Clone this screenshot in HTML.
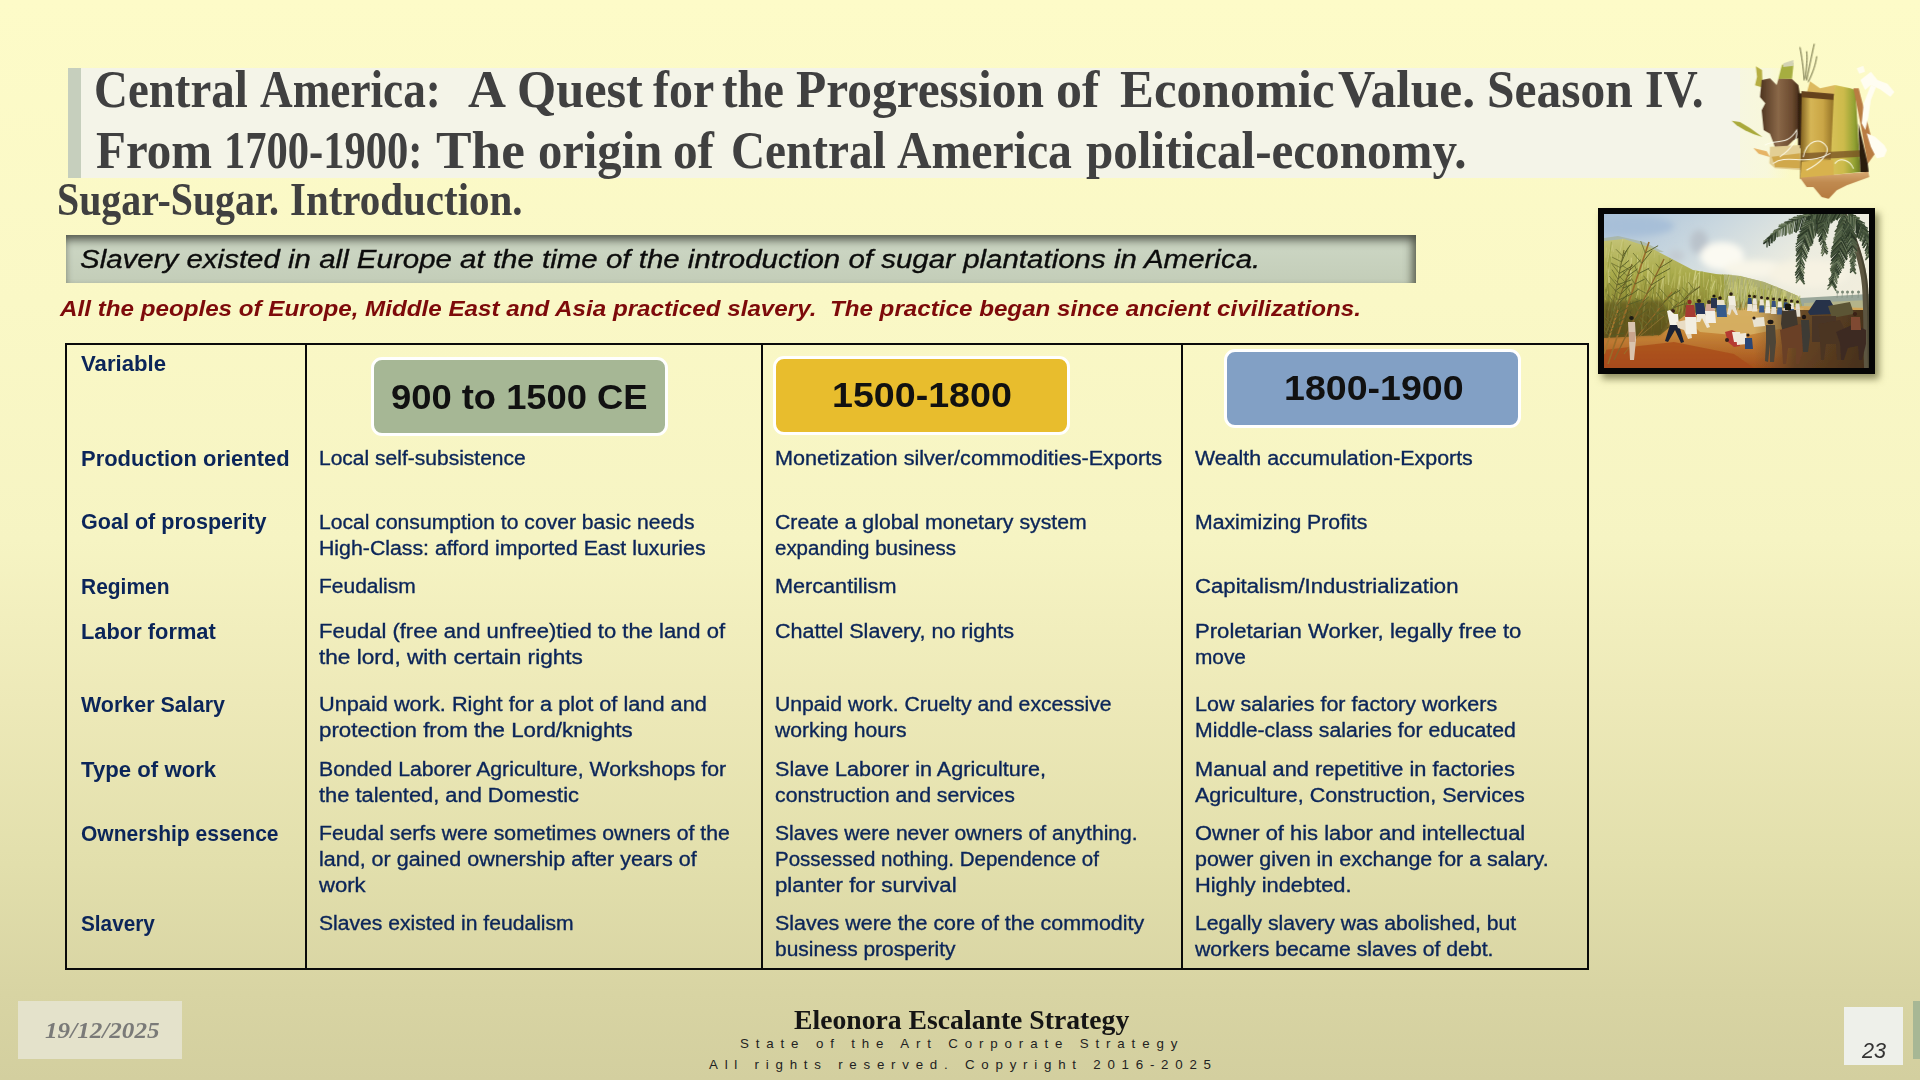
<!DOCTYPE html>
<html lang="en">
<head>
<meta charset="utf-8">
<title>Central America: A Quest for the Progression of Economic Value. Season IV.</title>
<style>
html,body{margin:0;padding:0;}
body{width:1920px;height:1080px;overflow:hidden;position:relative;
  background:linear-gradient(to bottom,#fdfbc8 0%,#faf8c6 28%,#f6f4c3 50%,#ede9b8 65%,#e2dfac 80%,#d8d4a3 92%,#d3cf9f 100%);
  font-family:"Liberation Sans",sans-serif;}
.abs{position:absolute;}
.t{position:absolute;white-space:pre;margin:0;transform-origin:0 0;}
#titlebox{left:80px;top:68px;width:1660px;height:110px;background:#f4f4e8;}
#titlefade{left:1740px;top:68px;width:50px;height:110px;background:linear-gradient(to right,rgba(246,246,226,.9) 0%,rgba(247,247,224,.8) 55%,rgba(248,248,222,0) 100%);}
#titlebar{left:67.5px;top:68px;width:13px;height:110px;background:#c6cfbd;}
#banner{left:66px;top:235px;width:1350px;height:48px;
  background:linear-gradient(to bottom,#c7d1be 0%,#cad4c1 35%,#c3cdb8 100%);
  box-shadow:inset 0 11px 8px -6px rgba(75,80,70,.9), inset -10px 0 8px -6px rgba(75,80,65,.85), inset 6px 0 6px -5px rgba(75,80,65,.4);}
#tbl{left:65px;top:342.5px;width:1519.5px;height:623px;border:2.3px solid #0a0a0a;}
.vl{top:344px;width:2px;height:624px;background:#0a0a0a;}
.pill{width:291px;height:73px;border:3px solid #fff;border-radius:11px;}
#datebox{left:18px;top:1001px;width:164px;height:58px;background:#e4e2cb;}
#pgbox{left:1844px;top:1007px;width:59px;height:58px;background:#eef0ea;}
#gbar{left:1913px;top:1001px;width:7px;height:58px;background:#a7b795;}
#paint{left:1598px;top:208px;width:265px;height:154px;border:6px solid #050505;background:#ccc;
  box-shadow:4px 5px 7px rgba(60,60,20,.55);overflow:hidden;}
</style>
</head>
<body>
<div class="abs" id="titlebox"></div>
<div class="abs" id="titlefade"></div>
<div class="abs" id="titlebar"></div>
<div class="abs" id="banner"></div>

<div class="abs" id="tbl"></div>
<div class="abs vl" style="left:305px"></div>
<div class="abs vl" style="left:760.5px"></div>
<div class="abs vl" style="left:1180.5px"></div>

<div class="abs pill" style="left:371px;top:357px;background:#a6b795"></div>
<div class="abs pill" style="left:772.5px;top:355.5px;background:#e8bd2d"></div>
<div class="abs pill" style="left:1224px;top:349px;background:#82a0c5"></div>

<div class="abs" id="datebox"></div>
<div class="abs" id="pgbox"></div>
<div class="abs" id="gbar"></div>

<!--CANE_START--><svg class="abs" style="left:1720px;top:30px" width="200" height="180" viewBox="0 0 200 180">
<defs>
<linearGradient id="cg1" x1="0" x2="1" y1="0" y2="0"><stop offset="0" stop-color="#4e3420"/><stop offset=".45" stop-color="#8a6848"/><stop offset=".8" stop-color="#6b4a30"/><stop offset="1" stop-color="#3d2614"/></linearGradient>
<linearGradient id="cg2" x1="0" x2="1" y1="0" y2="0"><stop offset="0" stop-color="#7c5c1c"/><stop offset=".3" stop-color="#d6b656"/><stop offset=".65" stop-color="#caa646"/><stop offset="1" stop-color="#8a6a22"/></linearGradient>
<linearGradient id="cg3" x1="0" x2="1" y1="0" y2="0"><stop offset="0" stop-color="#d9c258"/><stop offset=".45" stop-color="#cdbb4c"/><stop offset=".8" stop-color="#93a233"/><stop offset="1" stop-color="#6c7a22"/></linearGradient>
<linearGradient id="cg4" x1="0" x2="0" y1="0" y2="1"><stop offset="0" stop-color="#d9aa72"/><stop offset=".4" stop-color="#c08a50"/><stop offset="1" stop-color="#b57a40"/></linearGradient>
<filter id="cb" x="-5%" y="-5%" width="110%" height="110%"><feGaussianBlur stdDeviation="2.2"/></filter>
</defs>
<g transform="scale(0.166667)" filter="url(#cb)">
<polygon points="70,545 120,552 180,588 255,642 200,624 150,602 100,572" fill="#a9a93a"/>
<polygon points="200,708 280,728 300,762 232,742" fill="#e6b466"/>
<polygon points="215,218 252,240 256,345 210,332 222,280" fill="#b6ae42"/>
<polygon points="250,300 300,290 340,330 352,290 430,292 470,330 482,400 482,640 440,662 400,702 330,702 300,622 262,600 250,482 272,440 240,402" fill="url(#cg1)"/>
<polygon points="372,208 442,198 432,292 350,292" fill="#a6ae40"/>
<polygon points="380,200 440,180 442,215 378,222" fill="#d3d2b4"/>
<rect x="468" y="380" width="54" height="330" fill="#352010"/>
<polygon points="300,700 480,690 484,840 330,830 296,800" fill="#e3cf94"/>
<polygon points="310,760 480,740 482,830 330,822" fill="#d0a84c"/>
<polygon points="540,308 600,350 690,330 692,398 520,378" fill="#dcb95e"/>
<polygon points="490,380 692,395 682,882 480,892" fill="url(#cg2)"/>
<polygon points="488,366 694,384 692,420 488,404" fill="#65421e"/>
<polygon points="690,330 782,350 812,360 842,852 660,872 682,400" fill="url(#cg3)"/>
<polygon points="486,740 840,722 842,760 486,780" fill="#7a5526" opacity=".8"/>
<polygon points="490,790 680,778 682,880 482,890" fill="#d8b24e"/>
<polygon points="800,350 832,350 932,740 886,802 842,560" fill="#b97b43"/>
<polygon points="830,560 886,800 892,852 842,852" fill="#2a1a0b"/>
<polygon points="480,886 890,850 896,882 760,932 700,962 652,1012 610,1002 560,942 520,942" fill="url(#cg4)"/>
<polygon points="842,300 905,250 945,300 1005,322 1046,372 1022,400 960,356 905,330 870,360" fill="#fffdf2"/>
<polygon points="905,330 935,345 905,420 890,520 872,600 850,560 862,440" fill="#fffdf2"/>
<polygon points="880,620 930,640 985,690 1002,720 985,760 940,770 905,700" fill="#fffdf2"/>
<polygon points="820,230 860,215 870,250 835,262" fill="#fffdf2" opacity=".9"/>
<g fill="none" stroke="#4b4a22" stroke-width="5" stroke-linecap="round">
<path d="M505,300 C500,220 490,160 480,105"/><path d="M520,300 C540,200 555,130 565,85"/><path d="M512,290 C520,220 525,170 520,130"/><path d="M530,310 C560,250 575,200 580,160"/>
</g>
<g fill="none" stroke="#fffef0" stroke-width="6" stroke-linecap="round" opacity=".95">
<path d="M270,690 C340,650 400,700 460,600 C470,660 420,720 360,760"/>
<path d="M500,760 C520,660 600,640 640,700 C660,740 600,800 520,840"/>
<path d="M320,800 C400,740 520,820 660,740"/>
<path d="M690,800 C720,760 780,780 800,830"/>
</g>
</g>
</svg>
<!--CANE_END-->
<!--PAINT_START--><div class="abs" id="paint"><svg width="265" height="154" viewBox="0 0 265 154" style="display:block"><defs>
<linearGradient id="psky" x1="0" y1="0" x2="1" y2="0.75"><stop offset="0" stop-color="#a9c0d8"/><stop offset=".3" stop-color="#c9d7df"/><stop offset=".6" stop-color="#ecece0"/><stop offset="1" stop-color="#f3eedb"/></linearGradient>
<linearGradient id="pcane" x1="0" y1="0" x2="0" y2="1"><stop offset="0" stop-color="#c3c274"/><stop offset=".35" stop-color="#aaab4c"/><stop offset=".7" stop-color="#86812f"/><stop offset="1" stop-color="#6b5a22"/></linearGradient>
<linearGradient id="pgr" x1="0" y1="0" x2="0" y2="1"><stop offset="0" stop-color="#d2aa5c"/><stop offset=".4" stop-color="#c98a3a"/><stop offset="1" stop-color="#a4501c"/></linearGradient>
<linearGradient id="pdk" x1="0" y1="0" x2="1" y2="0"><stop offset="0" stop-color="#6a4826" stop-opacity="0"/><stop offset=".35" stop-color="#5a3e22" stop-opacity=".85"/><stop offset="1" stop-color="#3e2c1a" stop-opacity=".95"/></linearGradient>
<filter id="pb" x="-5%" y="-5%" width="110%" height="110%"><feGaussianBlur stdDeviation="0.5"/></filter>
<filter id="pb2" x="-30%" y="-30%" width="160%" height="160%"><feGaussianBlur stdDeviation="3"/></filter>
<filter id="pb3" x="-30%" y="-30%" width="160%" height="160%"><feGaussianBlur stdDeviation="1.6"/></filter>
</defs><rect width="265" height="154" fill="url(#psky)"/><g filter="url(#pb2)"><ellipse cx="95" cy="28" rx="9" ry="12" fill="#b9c2cb"/><ellipse cx="72" cy="42" rx="8" ry="6" fill="#c3cbd1"/><ellipse cx="118" cy="42" rx="22" ry="14" fill="#fbfaf2"/><ellipse cx="150" cy="55" rx="30" ry="9" fill="#f8f5e8"/><ellipse cx="205" cy="60" rx="40" ry="14" fill="#f6f2e2"/><ellipse cx="30" cy="12" rx="40" ry="10" fill="#a7bfd8"/></g><g filter="url(#pb)"><polygon points="196,84 265,80 265,96 196,96" fill="#9aa79a"/><polygon points="200,89 265,86 265,98 200,98" fill="#b4b48a"/><line x1="233" y1="84" x2="233.5" y2="78.5" stroke="#7a8677" stroke-width=".5"/><circle cx="233.5" cy="78" r="1.5" fill="#7d8a78"/><line x1="238" y1="84" x2="238.5" y2="78.5" stroke="#7a8677" stroke-width=".5"/><circle cx="238.5" cy="78" r="1.5" fill="#7d8a78"/><line x1="243" y1="84" x2="243.5" y2="78.5" stroke="#7a8677" stroke-width=".5"/><circle cx="243.5" cy="78" r="1.5" fill="#7d8a78"/><line x1="248" y1="84" x2="248.5" y2="78.5" stroke="#7a8677" stroke-width=".5"/><circle cx="248.5" cy="78" r="1.5" fill="#7d8a78"/><line x1="254" y1="84" x2="254.5" y2="78.5" stroke="#7a8677" stroke-width=".5"/><circle cx="254.5" cy="78" r="1.5" fill="#7d8a78"/><polygon points="0,118 56,118 80,101 136,92 196,92 265,94 265,154 0,154" fill="url(#pgr)"/><polygon points="80,102 136,93 200,94 190,112 140,122 96,118" fill="#d6b064" opacity=".9"/><polygon points="0,136 70,128 130,140 150,154 0,154" fill="#a84a1a" opacity=".75"/><rect x="150" y="96" width="115" height="58" fill="url(#pdk)"/><polygon points="0,24 14,22 40,28 60,38 0,40" fill="#a3ae8c" opacity=".6"/><polygon points="0,27 20,25 45,33 68,45 89,56 112,60 136,62 160,68 180,76 194,82 198,92 170,95 136,93 101,96 80,102 56,121 0,124" fill="url(#pcane)"/><polygon points="120,60 136,62 160,68 180,76 194,82 198,92 150,94 120,94" fill="#b3b78a" opacity=".7"/><line x1="88.7" y1="76.4" x2="87.2" y2="99.4" stroke="#c2c06a" stroke-width="1.1" opacity=".75"/><line x1="37.2" y1="99.0" x2="33.7" y2="115.5" stroke="#8a6a28" stroke-width="0.7" opacity=".75"/><line x1="17.8" y1="98.5" x2="17.0" y2="119.8" stroke="#6a6424" stroke-width="0.8" opacity=".75"/><line x1="88.8" y1="83.4" x2="89.4" y2="99.4" stroke="#b0b052" stroke-width="0.5" opacity=".75"/><line x1="7.0" y1="105.1" x2="4.8" y2="122.0" stroke="#9a7a30" stroke-width="0.9" opacity=".75"/><line x1="38.3" y1="50.0" x2="37.9" y2="62.5" stroke="#d3d28a" stroke-width="0.8" opacity=".75"/><line x1="54.5" y1="115.8" x2="54.4" y2="122.0" stroke="#6a6424" stroke-width="0.7" opacity=".75"/><line x1="45.0" y1="56.3" x2="43.2" y2="63.8" stroke="#d3d28a" stroke-width="1.1" opacity=".75"/><line x1="75.8" y1="97.2" x2="72.9" y2="105.4" stroke="#6a6424" stroke-width="1.1" opacity=".75"/><line x1="10.3" y1="59.2" x2="6.7" y2="80.7" stroke="#9aa044" stroke-width="0.9" opacity=".75"/><line x1="152.6" y1="71.6" x2="148.7" y2="79.5" stroke="#b5b65a" stroke-width="0.8" opacity=".75"/><line x1="180.9" y1="77.0" x2="177.2" y2="93.3" stroke="#d3d28a" stroke-width="1.1" opacity=".75"/><line x1="34.8" y1="77.5" x2="36.2" y2="93.4" stroke="#8b8e36" stroke-width="1.0" opacity=".75"/><line x1="82.2" y1="67.7" x2="78.2" y2="82.4" stroke="#c9c878" stroke-width="1.1" opacity=".75"/><line x1="191.1" y1="83.8" x2="188.2" y2="92.6" stroke="#d3d28a" stroke-width="0.8" opacity=".75"/><line x1="167.5" y1="81.7" x2="164.6" y2="89.9" stroke="#8b8e36" stroke-width="0.7" opacity=".75"/><line x1="151.4" y1="72.9" x2="147.9" y2="85.4" stroke="#d3d28a" stroke-width="0.6" opacity=".75"/><line x1="124.8" y1="60.5" x2="121.5" y2="74.7" stroke="#9aa044" stroke-width="0.9" opacity=".75"/><line x1="163.1" y1="71.0" x2="160.9" y2="85.5" stroke="#c9c878" stroke-width="0.7" opacity=".75"/><line x1="119.6" y1="82.6" x2="119.4" y2="92.1" stroke="#8b8e36" stroke-width="0.8" opacity=".75"/><line x1="94.6" y1="58.9" x2="90.8" y2="65.9" stroke="#d3d28a" stroke-width="1.2" opacity=".75"/><line x1="46.7" y1="91.5" x2="44.3" y2="103.1" stroke="#c2c06a" stroke-width="0.6" opacity=".75"/><line x1="141.2" y1="64.2" x2="138.7" y2="75.2" stroke="#d3d28a" stroke-width="1.1" opacity=".75"/><line x1="40.0" y1="31.8" x2="37.3" y2="43.7" stroke="#9aa044" stroke-width="0.5" opacity=".75"/><line x1="55.3" y1="79.1" x2="53.3" y2="106.5" stroke="#b0b052" stroke-width="1.1" opacity=".75"/><line x1="192.2" y1="84.4" x2="191.4" y2="92.5" stroke="#c9c878" stroke-width="1.1" opacity=".75"/><line x1="93.1" y1="69.1" x2="89.2" y2="81.9" stroke="#d3d28a" stroke-width="0.9" opacity=".75"/><line x1="94.5" y1="83.0" x2="90.9" y2="96.1" stroke="#b0b052" stroke-width="0.9" opacity=".75"/><line x1="144.5" y1="87.0" x2="144.8" y2="95.7" stroke="#8a6a28" stroke-width="1.1" opacity=".75"/><line x1="69.0" y1="85.8" x2="70.2" y2="110.7" stroke="#c2c06a" stroke-width="0.5" opacity=".75"/><line x1="98.0" y1="57.1" x2="97.2" y2="77.7" stroke="#9aa044" stroke-width="0.9" opacity=".75"/><line x1="15.7" y1="83.0" x2="15.7" y2="110.8" stroke="#c2c06a" stroke-width="0.8" opacity=".75"/><line x1="144.1" y1="78.5" x2="142.9" y2="94.2" stroke="#b0b052" stroke-width="0.9" opacity=".75"/><line x1="60.8" y1="46.5" x2="59.5" y2="53.0" stroke="#d3d28a" stroke-width="0.9" opacity=".75"/><line x1="180.4" y1="78.3" x2="177.2" y2="84.5" stroke="#b5b65a" stroke-width="0.9" opacity=".75"/><line x1="101.6" y1="83.9" x2="100.3" y2="97.4" stroke="#c2c06a" stroke-width="0.7" opacity=".75"/><line x1="79.3" y1="61.6" x2="80.2" y2="81.6" stroke="#c9c878" stroke-width="0.8" opacity=".75"/><line x1="114.3" y1="69.5" x2="112.2" y2="78.5" stroke="#9aa044" stroke-width="1.1" opacity=".75"/><line x1="8.0" y1="31.0" x2="4.6" y2="58.6" stroke="#c9c878" stroke-width="0.8" opacity=".75"/><line x1="181.4" y1="85.3" x2="181.1" y2="93.2" stroke="#c2c06a" stroke-width="1.0" opacity=".75"/><line x1="165.0" y1="81.1" x2="162.5" y2="94.1" stroke="#b0b052" stroke-width="0.9" opacity=".75"/><line x1="132.9" y1="69.1" x2="132.5" y2="82.9" stroke="#d3d28a" stroke-width="0.8" opacity=".75"/><line x1="37.2" y1="96.0" x2="37.6" y2="107.9" stroke="#8a6a28" stroke-width="1.2" opacity=".75"/><line x1="22.6" y1="34.8" x2="23.9" y2="52.5" stroke="#b5b65a" stroke-width="1.0" opacity=".75"/><line x1="39.1" y1="70.9" x2="39.2" y2="80.8" stroke="#b0b052" stroke-width="0.9" opacity=".75"/><line x1="7.1" y1="45.8" x2="5.3" y2="69.0" stroke="#c9c878" stroke-width="1.1" opacity=".75"/><line x1="177.6" y1="75.2" x2="174.3" y2="93.5" stroke="#9aa044" stroke-width="0.8" opacity=".75"/><line x1="122.6" y1="88.3" x2="121.2" y2="97.2" stroke="#5a5220" stroke-width="1.0" opacity=".75"/><line x1="40.2" y1="92.2" x2="37.3" y2="116.2" stroke="#b0b052" stroke-width="1.1" opacity=".75"/><line x1="192.2" y1="86.4" x2="189.6" y2="92.5" stroke="#737a2c" stroke-width="1.0" opacity=".75"/><line x1="3.1" y1="71.3" x2="2.1" y2="78.1" stroke="#737a2c" stroke-width="1.0" opacity=".75"/><line x1="95.5" y1="57.2" x2="93.9" y2="81.0" stroke="#d3d28a" stroke-width="0.5" opacity=".75"/><line x1="104.5" y1="81.5" x2="101.3" y2="98.4" stroke="#c2c06a" stroke-width="0.9" opacity=".75"/><line x1="141.8" y1="85.5" x2="141.0" y2="95.9" stroke="#c2c06a" stroke-width="1.0" opacity=".75"/><line x1="148.5" y1="75.3" x2="147.4" y2="93.5" stroke="#c9c878" stroke-width="1.1" opacity=".75"/><line x1="109.8" y1="69.0" x2="107.4" y2="83.4" stroke="#c9c878" stroke-width="0.6" opacity=".75"/><line x1="106.8" y1="67.4" x2="105.7" y2="84.4" stroke="#9aa044" stroke-width="0.9" opacity=".75"/><line x1="118.6" y1="60.4" x2="117.6" y2="87.8" stroke="#9aa044" stroke-width="1.2" opacity=".75"/><line x1="23.9" y1="33.7" x2="22.2" y2="43.4" stroke="#9aa044" stroke-width="1.2" opacity=".75"/><line x1="181.0" y1="78.6" x2="178.9" y2="93.3" stroke="#c9c878" stroke-width="1.1" opacity=".75"/><line x1="183.4" y1="86.3" x2="180.4" y2="93.1" stroke="#b0b052" stroke-width="0.9" opacity=".75"/><line x1="181.4" y1="77.1" x2="177.5" y2="93.2" stroke="#d3d28a" stroke-width="0.6" opacity=".75"/><line x1="2.3" y1="51.4" x2="1.7" y2="73.3" stroke="#c9c878" stroke-width="0.6" opacity=".75"/><line x1="143.3" y1="66.1" x2="143.2" y2="83.4" stroke="#b5b65a" stroke-width="1.0" opacity=".75"/><line x1="172.2" y1="72.3" x2="171.2" y2="92.2" stroke="#c9c878" stroke-width="1.1" opacity=".75"/><line x1="104.7" y1="65.3" x2="101.9" y2="76.0" stroke="#c9c878" stroke-width="1.0" opacity=".75"/><line x1="158.9" y1="86.6" x2="159.8" y2="94.7" stroke="#737a2c" stroke-width="0.6" opacity=".75"/><line x1="152.5" y1="69.8" x2="149.3" y2="77.9" stroke="#c9c878" stroke-width="0.6" opacity=".75"/><line x1="76.0" y1="70.4" x2="73.1" y2="97.1" stroke="#8b8e36" stroke-width="0.9" opacity=".75"/><line x1="156.6" y1="68.3" x2="157.6" y2="86.9" stroke="#b5b65a" stroke-width="1.2" opacity=".75"/><line x1="22.6" y1="70.9" x2="23.0" y2="93.6" stroke="#8b8e36" stroke-width="0.8" opacity=".75"/><line x1="4.8" y1="94.5" x2="1.6" y2="114.0" stroke="#9a7a30" stroke-width="0.6" opacity=".75"/><line x1="40.0" y1="102.3" x2="39.2" y2="122.0" stroke="#6a6424" stroke-width="0.6" opacity=".75"/><line x1="133.5" y1="63.1" x2="132.0" y2="71.2" stroke="#9aa044" stroke-width="0.9" opacity=".75"/><line x1="84.3" y1="77.3" x2="84.9" y2="83.6" stroke="#b0b052" stroke-width="0.6" opacity=".75"/><line x1="89.0" y1="83.4" x2="88.3" y2="98.3" stroke="#8b8e36" stroke-width="0.6" opacity=".75"/><line x1="155.3" y1="73.3" x2="154.4" y2="81.2" stroke="#9aa044" stroke-width="0.6" opacity=".75"/><line x1="114.6" y1="70.3" x2="115.6" y2="93.1" stroke="#b5b65a" stroke-width="1.0" opacity=".75"/><line x1="152.5" y1="84.7" x2="153.3" y2="95.2" stroke="#737a2c" stroke-width="1.0" opacity=".75"/><line x1="150.4" y1="83.5" x2="146.8" y2="95.3" stroke="#8b8e36" stroke-width="0.7" opacity=".75"/><line x1="91.9" y1="55.9" x2="89.2" y2="69.7" stroke="#d3d28a" stroke-width="1.2" opacity=".75"/><line x1="130.6" y1="70.7" x2="129.5" y2="91.2" stroke="#c9c878" stroke-width="0.8" opacity=".75"/><line x1="196.0" y1="84.4" x2="197.4" y2="92.3" stroke="#9aa044" stroke-width="0.5" opacity=".75"/><line x1="120.6" y1="83.0" x2="119.4" y2="94.7" stroke="#c2c06a" stroke-width="1.0" opacity=".75"/><line x1="127.0" y1="60.6" x2="128.0" y2="72.3" stroke="#b5b65a" stroke-width="0.9" opacity=".75"/><line x1="99.5" y1="91.5" x2="99.0" y2="98.7" stroke="#6a6424" stroke-width="1.1" opacity=".75"/><line x1="14.9" y1="79.2" x2="13.1" y2="101.9" stroke="#b0b052" stroke-width="1.2" opacity=".75"/><line x1="75.6" y1="97.9" x2="74.0" y2="105.5" stroke="#6a6424" stroke-width="0.8" opacity=".75"/><line x1="55.7" y1="68.9" x2="54.4" y2="81.7" stroke="#737a2c" stroke-width="0.7" opacity=".75"/><line x1="182.2" y1="83.4" x2="178.3" y2="93.2" stroke="#b0b052" stroke-width="0.7" opacity=".75"/><line x1="8.4" y1="39.4" x2="4.7" y2="62.0" stroke="#9aa044" stroke-width="0.7" opacity=".75"/><line x1="78.0" y1="77.4" x2="74.4" y2="99.3" stroke="#737a2c" stroke-width="1.1" opacity=".75"/><line x1="84.2" y1="72.2" x2="80.4" y2="99.6" stroke="#8b8e36" stroke-width="0.6" opacity=".75"/><line x1="158.8" y1="86.8" x2="158.1" y2="94.7" stroke="#8a6a28" stroke-width="0.6" opacity=".75"/><line x1="122.4" y1="74.1" x2="120.3" y2="84.6" stroke="#b0b052" stroke-width="0.6" opacity=".75"/><line x1="71.2" y1="53.7" x2="70.7" y2="68.9" stroke="#b5b65a" stroke-width="1.0" opacity=".75"/><line x1="71.3" y1="88.2" x2="72.6" y2="108.8" stroke="#8b8e36" stroke-width="1.0" opacity=".75"/><line x1="46.7" y1="42.4" x2="44.2" y2="68.0" stroke="#b5b65a" stroke-width="0.9" opacity=".75"/><line x1="142.1" y1="81.6" x2="142.3" y2="91.8" stroke="#737a2c" stroke-width="0.6" opacity=".75"/><line x1="48.8" y1="114.3" x2="48.3" y2="122.0" stroke="#6a6424" stroke-width="0.5" opacity=".75"/><line x1="50.9" y1="37.2" x2="49.8" y2="44.1" stroke="#c9c878" stroke-width="0.6" opacity=".75"/><line x1="16.9" y1="86.3" x2="15.6" y2="104.4" stroke="#737a2c" stroke-width="0.7" opacity=".75"/><line x1="66.3" y1="74.6" x2="66.7" y2="83.6" stroke="#b0b052" stroke-width="0.8" opacity=".75"/><line x1="161.1" y1="85.2" x2="159.5" y2="94.6" stroke="#c2c06a" stroke-width="0.7" opacity=".75"/><line x1="158.7" y1="74.8" x2="156.3" y2="94.8" stroke="#b5b65a" stroke-width="1.0" opacity=".75"/><line x1="161.9" y1="71.6" x2="160.5" y2="92.0" stroke="#d3d28a" stroke-width="0.7" opacity=".75"/><line x1="106.6" y1="72.8" x2="104.2" y2="91.3" stroke="#c2c06a" stroke-width="1.0" opacity=".75"/><line x1="14.9" y1="44.0" x2="14.7" y2="64.6" stroke="#d3d28a" stroke-width="0.8" opacity=".75"/><line x1="149.8" y1="72.6" x2="147.7" y2="95.3" stroke="#c9c878" stroke-width="1.0" opacity=".75"/><line x1="71.8" y1="52.6" x2="70.2" y2="74.2" stroke="#b5b65a" stroke-width="1.1" opacity=".75"/><line x1="59.7" y1="62.7" x2="56.2" y2="77.5" stroke="#c9c878" stroke-width="1.1" opacity=".75"/><line x1="4.7" y1="86.8" x2="4.8" y2="105.6" stroke="#8b8e36" stroke-width="0.8" opacity=".75"/><line x1="76.5" y1="56.2" x2="73.5" y2="75.2" stroke="#c9c878" stroke-width="1.0" opacity=".75"/><line x1="172.7" y1="76.5" x2="171.6" y2="83.0" stroke="#d3d28a" stroke-width="0.9" opacity=".75"/><line x1="189.4" y1="84.0" x2="188.6" y2="92.7" stroke="#d3d28a" stroke-width="0.7" opacity=".75"/><line x1="106.9" y1="69.5" x2="107.9" y2="81.5" stroke="#d3d28a" stroke-width="0.6" opacity=".75"/><line x1="124.3" y1="64.5" x2="121.6" y2="86.9" stroke="#9aa044" stroke-width="0.7" opacity=".75"/><line x1="150.0" y1="77.5" x2="147.9" y2="95.3" stroke="#c2c06a" stroke-width="1.1" opacity=".75"/><line x1="65.3" y1="51.5" x2="65.2" y2="68.2" stroke="#d3d28a" stroke-width="1.1" opacity=".75"/><line x1="80.5" y1="86.4" x2="80.9" y2="100.0" stroke="#6a6424" stroke-width="1.1" opacity=".75"/><line x1="174.2" y1="87.1" x2="174.1" y2="93.7" stroke="#737a2c" stroke-width="1.1" opacity=".75"/><line x1="82.6" y1="69.4" x2="84.1" y2="78.6" stroke="#8b8e36" stroke-width="0.8" opacity=".75"/><line x1="32.9" y1="46.1" x2="30.4" y2="61.4" stroke="#b5b65a" stroke-width="1.1" opacity=".75"/><line x1="92.4" y1="83.1" x2="92.7" y2="95.7" stroke="#8b8e36" stroke-width="0.6" opacity=".75"/><line x1="12.2" y1="66.6" x2="9.9" y2="85.5" stroke="#b0b052" stroke-width="0.6" opacity=".75"/><line x1="70.4" y1="79.6" x2="69.7" y2="98.8" stroke="#c2c06a" stroke-width="0.7" opacity=".75"/><line x1="36.3" y1="53.6" x2="35.7" y2="63.4" stroke="#b5b65a" stroke-width="1.2" opacity=".75"/><line x1="107.9" y1="87.2" x2="108.9" y2="98.1" stroke="#9a7a30" stroke-width="0.7" opacity=".75"/><line x1="107.3" y1="90.7" x2="105.5" y2="98.2" stroke="#8a6a28" stroke-width="0.7" opacity=".75"/><line x1="26.3" y1="97.8" x2="26.7" y2="122.0" stroke="#5a5220" stroke-width="0.5" opacity=".75"/><line x1="181.2" y1="86.0" x2="179.6" y2="93.3" stroke="#737a2c" stroke-width="0.7" opacity=".75"/><line x1="82.6" y1="88.5" x2="79.4" y2="99.8" stroke="#5a5220" stroke-width="1.1" opacity=".75"/><line x1="158.8" y1="69.6" x2="157.6" y2="91.9" stroke="#b5b65a" stroke-width="0.5" opacity=".75"/><line x1="112.1" y1="64.9" x2="112.6" y2="75.4" stroke="#c9c878" stroke-width="0.6" opacity=".75"/><line x1="52.9" y1="93.4" x2="52.7" y2="101.5" stroke="#c2c06a" stroke-width="0.6" opacity=".75"/><line x1="146.7" y1="77.7" x2="147.1" y2="94.9" stroke="#b0b052" stroke-width="0.8" opacity=".75"/><line x1="179.7" y1="76.0" x2="175.9" y2="93.4" stroke="#c9c878" stroke-width="0.8" opacity=".75"/><line x1="96.9" y1="90.9" x2="94.6" y2="98.9" stroke="#5a5220" stroke-width="0.6" opacity=".75"/><line x1="59.9" y1="73.5" x2="56.3" y2="95.2" stroke="#737a2c" stroke-width="0.6" opacity=".75"/><line x1="130.9" y1="80.9" x2="130.5" y2="96.6" stroke="#b0b052" stroke-width="0.5" opacity=".75"/><line x1="73.9" y1="85.2" x2="72.4" y2="96.5" stroke="#b0b052" stroke-width="0.5" opacity=".75"/><line x1="194.4" y1="85.3" x2="192.0" y2="92.4" stroke="#c9c878" stroke-width="0.8" opacity=".75"/><line x1="105.8" y1="68.2" x2="104.9" y2="81.6" stroke="#9aa044" stroke-width="0.6" opacity=".75"/><line x1="37.0" y1="62.0" x2="38.2" y2="70.4" stroke="#b5b65a" stroke-width="0.9" opacity=".75"/><line x1="141.9" y1="71.6" x2="138.4" y2="95.7" stroke="#d3d28a" stroke-width="0.9" opacity=".75"/><line x1="25.8" y1="82.7" x2="24.0" y2="92.6" stroke="#8b8e36" stroke-width="1.1" opacity=".75"/><line x1="116.2" y1="62.3" x2="117.6" y2="73.2" stroke="#c9c878" stroke-width="0.8" opacity=".75"/><line x1="151.2" y1="73.1" x2="150.7" y2="95.3" stroke="#c9c878" stroke-width="1.0" opacity=".75"/><line x1="160.9" y1="75.6" x2="160.4" y2="88.9" stroke="#9aa044" stroke-width="1.0" opacity=".75"/><line x1="120.2" y1="69.7" x2="119.8" y2="93.1" stroke="#c9c878" stroke-width="0.9" opacity=".75"/><line x1="3.6" y1="55.5" x2="0.2" y2="69.1" stroke="#9aa044" stroke-width="0.8" opacity=".75"/><line x1="99.8" y1="85.1" x2="97.2" y2="98.7" stroke="#8b8e36" stroke-width="0.9" opacity=".75"/><line x1="58.5" y1="56.3" x2="57.7" y2="75.8" stroke="#c9c878" stroke-width="0.6" opacity=".75"/><line x1="183.0" y1="87.1" x2="182.1" y2="93.1" stroke="#8b8e36" stroke-width="0.5" opacity=".75"/><line x1="129.3" y1="84.0" x2="128.4" y2="93.0" stroke="#c2c06a" stroke-width="1.0" opacity=".75"/><line x1="64.5" y1="103.6" x2="65.4" y2="114.3" stroke="#9a7a30" stroke-width="0.8" opacity=".75"/><line x1="143.0" y1="69.2" x2="142.1" y2="87.7" stroke="#d3d28a" stroke-width="0.7" opacity=".75"/><line x1="178.2" y1="87.3" x2="174.9" y2="93.5" stroke="#8b8e36" stroke-width="1.1" opacity=".75"/><line x1="56.6" y1="106.7" x2="57.1" y2="118.0" stroke="#5a5220" stroke-width="0.6" opacity=".75"/><line x1="107.4" y1="60.8" x2="107.7" y2="67.5" stroke="#c9c878" stroke-width="1.2" opacity=".75"/><line x1="195.8" y1="81.7" x2="195.2" y2="92.3" stroke="#9aa044" stroke-width="0.9" opacity=".75"/><line x1="149.6" y1="68.4" x2="146.4" y2="83.4" stroke="#d3d28a" stroke-width="0.8" opacity=".75"/><line x1="111.6" y1="64.7" x2="109.0" y2="82.1" stroke="#b5b65a" stroke-width="1.2" opacity=".75"/><line x1="10.5" y1="96.3" x2="8.7" y2="118.2" stroke="#8a6a28" stroke-width="0.8" opacity=".75"/><line x1="20.1" y1="55.8" x2="20.2" y2="81.5" stroke="#9aa044" stroke-width="0.8" opacity=".75"/><line x1="194.9" y1="85.5" x2="195.5" y2="92.3" stroke="#9aa044" stroke-width="0.6" opacity=".75"/><line x1="22.5" y1="110.4" x2="20.8" y2="122.0" stroke="#9a7a30" stroke-width="0.5" opacity=".75"/><line x1="177.8" y1="78.1" x2="177.8" y2="93.5" stroke="#9aa044" stroke-width="0.9" opacity=".75"/><line x1="147.4" y1="71.7" x2="144.7" y2="90.7" stroke="#d3d28a" stroke-width="1.1" opacity=".75"/><line x1="47.5" y1="105.5" x2="47.3" y2="122.0" stroke="#9a7a30" stroke-width="0.9" opacity=".75"/><line x1="46.9" y1="58.4" x2="47.7" y2="73.1" stroke="#c9c878" stroke-width="1.2" opacity=".75"/><line x1="143.2" y1="86.3" x2="142.3" y2="95.8" stroke="#9a7a30" stroke-width="0.6" opacity=".75"/><line x1="127.3" y1="73.2" x2="123.8" y2="81.9" stroke="#d3d28a" stroke-width="1.1" opacity=".75"/><line x1="24.3" y1="74.1" x2="21.9" y2="101.0" stroke="#b0b052" stroke-width="1.0" opacity=".75"/><line x1="4.7" y1="41.1" x2="5.2" y2="56.8" stroke="#9aa044" stroke-width="0.8" opacity=".75"/><line x1="69.9" y1="79.5" x2="68.4" y2="86.6" stroke="#b0b052" stroke-width="0.7" opacity=".75"/><line x1="63.6" y1="51.3" x2="64.4" y2="74.4" stroke="#9aa044" stroke-width="0.6" opacity=".75"/><line x1="168.4" y1="82.6" x2="169.0" y2="89.9" stroke="#737a2c" stroke-width="0.7" opacity=".75"/><line x1="92.6" y1="62.1" x2="91.5" y2="87.4" stroke="#c9c878" stroke-width="0.7" opacity=".75"/><line x1="186.1" y1="86.7" x2="186.1" y2="92.9" stroke="#737a2c" stroke-width="0.7" opacity=".75"/><line x1="176.5" y1="85.7" x2="174.3" y2="93.6" stroke="#8b8e36" stroke-width="1.2" opacity=".75"/><line x1="152.7" y1="75.1" x2="149.3" y2="84.9" stroke="#b5b65a" stroke-width="1.0" opacity=".75"/><line x1="52.7" y1="93.6" x2="53.1" y2="110.6" stroke="#737a2c" stroke-width="0.8" opacity=".75"/><line x1="129.8" y1="87.2" x2="131.1" y2="96.7" stroke="#8a6a28" stroke-width="1.1" opacity=".75"/><line x1="35.4" y1="48.6" x2="33.9" y2="57.5" stroke="#d3d28a" stroke-width="0.6" opacity=".75"/><line x1="179.8" y1="75.8" x2="179.1" y2="93.3" stroke="#d3d28a" stroke-width="0.7" opacity=".75"/><line x1="49.2" y1="99.9" x2="50.6" y2="107.8" stroke="#5a5220" stroke-width="0.6" opacity=".75"/><line x1="35.1" y1="92.8" x2="36.6" y2="99.5" stroke="#8b8e36" stroke-width="0.5" opacity=".75"/><line x1="90.5" y1="83.8" x2="86.8" y2="98.3" stroke="#c2c06a" stroke-width="0.5" opacity=".75"/><line x1="152.2" y1="87.0" x2="152.6" y2="95.2" stroke="#9a7a30" stroke-width="0.9" opacity=".75"/><line x1="99.1" y1="87.2" x2="98.4" y2="98.7" stroke="#8a6a28" stroke-width="1.0" opacity=".75"/><line x1="22.0" y1="64.4" x2="22.3" y2="85.1" stroke="#737a2c" stroke-width="1.1" opacity=".75"/><line x1="46.2" y1="73.4" x2="43.7" y2="84.3" stroke="#c2c06a" stroke-width="0.6" opacity=".75"/><line x1="190.2" y1="79.8" x2="188.0" y2="92.7" stroke="#c9c878" stroke-width="0.9" opacity=".75"/><line x1="119.3" y1="85.2" x2="120.0" y2="97.4" stroke="#737a2c" stroke-width="0.5" opacity=".75"/><line x1="22.4" y1="41.0" x2="21.8" y2="61.1" stroke="#c9c878" stroke-width="0.5" opacity=".75"/><line x1="83.4" y1="81.1" x2="83.6" y2="99.8" stroke="#737a2c" stroke-width="0.8" opacity=".75"/><line x1="127.4" y1="75.9" x2="124.3" y2="90.2" stroke="#8b8e36" stroke-width="1.0" opacity=".75"/><line x1="162.9" y1="84.1" x2="161.4" y2="91.5" stroke="#c2c06a" stroke-width="1.0" opacity=".75"/><line x1="137.9" y1="88.9" x2="134.7" y2="96.1" stroke="#8a6a28" stroke-width="0.8" opacity=".75"/><line x1="146.0" y1="64.5" x2="142.5" y2="75.8" stroke="#c9c878" stroke-width="0.9" opacity=".75"/><line x1="92.5" y1="90.7" x2="90.1" y2="99.2" stroke="#8a6a28" stroke-width="0.6" opacity=".75"/><line x1="167.7" y1="77.6" x2="165.7" y2="85.5" stroke="#c9c878" stroke-width="0.7" opacity=".75"/><line x1="192.3" y1="84.1" x2="191.5" y2="91.0" stroke="#9aa044" stroke-width="1.2" opacity=".75"/><line x1="144.5" y1="78.2" x2="143.1" y2="95.7" stroke="#8b8e36" stroke-width="0.8" opacity=".75"/><line x1="165.2" y1="76.4" x2="163.5" y2="94.3" stroke="#c9c878" stroke-width="0.7" opacity=".75"/><line x1="155.5" y1="84.4" x2="152.7" y2="95.0" stroke="#c2c06a" stroke-width="0.8" opacity=".75"/><line x1="60.5" y1="72.0" x2="61.2" y2="99.8" stroke="#8b8e36" stroke-width="0.6" opacity=".75"/><line x1="75.1" y1="51.5" x2="76.3" y2="72.7" stroke="#b5b65a" stroke-width="0.9" opacity=".75"/><line x1="101.7" y1="83.4" x2="99.2" y2="98.6" stroke="#8b8e36" stroke-width="0.8" opacity=".75"/><line x1="30.1" y1="110.4" x2="30.1" y2="122.0" stroke="#8a6a28" stroke-width="1.1" opacity=".75"/><line x1="4.0" y1="54.7" x2="4.7" y2="69.2" stroke="#d3d28a" stroke-width="0.8" opacity=".75"/><line x1="50.2" y1="106.1" x2="48.4" y2="122.0" stroke="#5a5220" stroke-width="0.7" opacity=".75"/><line x1="8.0" y1="38.9" x2="5.1" y2="58.0" stroke="#d3d28a" stroke-width="0.8" opacity=".75"/><line x1="93.8" y1="81.7" x2="91.5" y2="99.1" stroke="#737a2c" stroke-width="0.8" opacity=".75"/><line x1="73.9" y1="94.4" x2="72.1" y2="106.8" stroke="#9a7a30" stroke-width="0.8" opacity=".75"/><line x1="169.7" y1="74.8" x2="169.1" y2="87.2" stroke="#b5b65a" stroke-width="0.6" opacity=".75"/><line x1="166.2" y1="83.5" x2="166.7" y2="94.3" stroke="#b0b052" stroke-width="1.2" opacity=".75"/><line x1="58.4" y1="88.7" x2="57.5" y2="114.9" stroke="#8b8e36" stroke-width="0.7" opacity=".75"/><line x1="23.9" y1="95.6" x2="20.4" y2="109.8" stroke="#5a5220" stroke-width="0.8" opacity=".75"/><line x1="76.9" y1="51.7" x2="74.5" y2="66.1" stroke="#b5b65a" stroke-width="1.0" opacity=".75"/><line x1="43.4" y1="109.7" x2="41.4" y2="120.1" stroke="#8a6a28" stroke-width="1.0" opacity=".75"/><line x1="102.0" y1="83.5" x2="100.6" y2="98.5" stroke="#8b8e36" stroke-width="0.7" opacity=".75"/><line x1="167.2" y1="75.5" x2="163.8" y2="94.2" stroke="#9aa044" stroke-width="1.1" opacity=".75"/><line x1="178.8" y1="78.0" x2="177.4" y2="92.3" stroke="#b5b65a" stroke-width="0.7" opacity=".75"/><line x1="49.7" y1="36.4" x2="48.8" y2="50.0" stroke="#b5b65a" stroke-width="0.7" opacity=".75"/><line x1="130.9" y1="66.2" x2="132.2" y2="82.5" stroke="#b5b65a" stroke-width="0.8" opacity=".75"/><line x1="112.9" y1="89.9" x2="112.3" y2="97.8" stroke="#6a6424" stroke-width="0.8" opacity=".75"/><line x1="81.5" y1="62.9" x2="79.6" y2="87.1" stroke="#9aa044" stroke-width="1.1" opacity=".75"/><line x1="7.5" y1="37.6" x2="6.2" y2="54.7" stroke="#b5b65a" stroke-width="0.8" opacity=".75"/><line x1="4.1" y1="80.3" x2="3.9" y2="92.3" stroke="#737a2c" stroke-width="0.7" opacity=".75"/><line x1="0.2" y1="74.9" x2="-0.8" y2="89.6" stroke="#8b8e36" stroke-width="1.1" opacity=".75"/><line x1="150.0" y1="66.5" x2="147.4" y2="90.6" stroke="#b5b65a" stroke-width="0.6" opacity=".75"/><line x1="3.8" y1="98.4" x2="3.6" y2="109.0" stroke="#9a7a30" stroke-width="1.2" opacity=".75"/><line x1="161.6" y1="71.0" x2="162.0" y2="90.6" stroke="#9aa044" stroke-width="0.7" opacity=".75"/><line x1="81.3" y1="66.7" x2="78.6" y2="87.4" stroke="#9aa044" stroke-width="0.7" opacity=".75"/><line x1="63.7" y1="53.7" x2="64.5" y2="71.0" stroke="#c9c878" stroke-width="1.2" opacity=".75"/><line x1="160.3" y1="86.2" x2="159.1" y2="94.6" stroke="#c2c06a" stroke-width="1.0" opacity=".75"/><line x1="7.9" y1="81.6" x2="4.2" y2="96.7" stroke="#c2c06a" stroke-width="0.7" opacity=".75"/><line x1="99.5" y1="85.4" x2="97.5" y2="98.7" stroke="#737a2c" stroke-width="1.0" opacity=".75"/><line x1="36.0" y1="103.5" x2="35.1" y2="114.0" stroke="#8a6a28" stroke-width="0.8" opacity=".75"/><line x1="138.6" y1="79.4" x2="135.2" y2="96.1" stroke="#8b8e36" stroke-width="0.8" opacity=".75"/><line x1="131.2" y1="67.5" x2="129.8" y2="77.6" stroke="#d3d28a" stroke-width="1.0" opacity=".75"/><line x1="155.0" y1="87.3" x2="153.3" y2="95.0" stroke="#5a5220" stroke-width="0.9" opacity=".75"/><line x1="77.8" y1="94.5" x2="74.6" y2="103.8" stroke="#6a6424" stroke-width="1.2" opacity=".75"/><line x1="170.7" y1="74.5" x2="168.9" y2="88.3" stroke="#d3d28a" stroke-width="1.1" opacity=".75"/><line x1="163.2" y1="85.5" x2="160.9" y2="94.5" stroke="#b0b052" stroke-width="1.1" opacity=".75"/><line x1="164.4" y1="74.3" x2="164.6" y2="88.9" stroke="#9aa044" stroke-width="1.2" opacity=".75"/><line x1="76.3" y1="83.4" x2="74.7" y2="101.5" stroke="#8b8e36" stroke-width="1.1" opacity=".75"/><line x1="109.0" y1="88.6" x2="105.7" y2="98.1" stroke="#9a7a30" stroke-width="0.7" opacity=".75"/><line x1="3.8" y1="76.8" x2="1.3" y2="85.9" stroke="#c2c06a" stroke-width="0.7" opacity=".75"/><line x1="94.5" y1="69.5" x2="91.3" y2="81.2" stroke="#d3d28a" stroke-width="0.5" opacity=".75"/><line x1="149.1" y1="81.1" x2="147.7" y2="87.2" stroke="#737a2c" stroke-width="1.2" opacity=".75"/><line x1="39.6" y1="104.6" x2="37.6" y2="121.3" stroke="#9a7a30" stroke-width="0.9" opacity=".75"/><line x1="109.2" y1="65.7" x2="106.8" y2="85.3" stroke="#b5b65a" stroke-width="1.2" opacity=".75"/><line x1="169.5" y1="87.9" x2="166.4" y2="94.0" stroke="#6a6424" stroke-width="0.5" opacity=".75"/><line x1="33.1" y1="38.6" x2="29.2" y2="46.3" stroke="#b5b65a" stroke-width="0.9" opacity=".75"/><line x1="12.3" y1="67.3" x2="13.6" y2="92.8" stroke="#b0b052" stroke-width="0.5" opacity=".75"/><line x1="103.3" y1="85.8" x2="101.5" y2="98.4" stroke="#c2c06a" stroke-width="1.1" opacity=".75"/><line x1="162.2" y1="83.7" x2="163.4" y2="94.5" stroke="#b0b052" stroke-width="0.8" opacity=".75"/><line x1="164.6" y1="76.8" x2="160.7" y2="94.4" stroke="#d3d28a" stroke-width="0.6" opacity=".75"/><line x1="63.4" y1="90.5" x2="63.9" y2="107.6" stroke="#737a2c" stroke-width="0.8" opacity=".75"/><line x1="125.1" y1="71.0" x2="124.3" y2="83.2" stroke="#b5b65a" stroke-width="0.7" opacity=".75"/><line x1="41.9" y1="46.3" x2="40.9" y2="53.3" stroke="#c9c878" stroke-width="1.0" opacity=".75"/><line x1="34.7" y1="38.0" x2="31.8" y2="47.1" stroke="#b5b65a" stroke-width="0.5" opacity=".75"/><line x1="78.3" y1="51.9" x2="74.5" y2="60.0" stroke="#c9c878" stroke-width="0.6" opacity=".75"/><line x1="13.0" y1="78.5" x2="11.4" y2="97.2" stroke="#737a2c" stroke-width="1.2" opacity=".75"/><line x1="43.0" y1="65.9" x2="43.5" y2="87.5" stroke="#8b8e36" stroke-width="0.5" opacity=".75"/><line x1="76.5" y1="94.8" x2="75.3" y2="104.8" stroke="#5a5220" stroke-width="0.5" opacity=".75"/><line x1="143.1" y1="80.7" x2="140.3" y2="95.8" stroke="#b0b052" stroke-width="0.9" opacity=".75"/><line x1="174.0" y1="85.6" x2="170.6" y2="93.7" stroke="#b0b052" stroke-width="1.0" opacity=".75"/><line x1="145.9" y1="74.9" x2="144.6" y2="91.1" stroke="#9aa044" stroke-width="0.8" opacity=".75"/><line x1="106.1" y1="59.4" x2="104.5" y2="85.7" stroke="#9aa044" stroke-width="0.9" opacity=".75"/><line x1="116.5" y1="89.4" x2="114.3" y2="97.6" stroke="#9a7a30" stroke-width="0.7" opacity=".75"/><line x1="122.1" y1="65.7" x2="118.4" y2="82.1" stroke="#9aa044" stroke-width="1.2" opacity=".75"/><line x1="147.6" y1="86.9" x2="148.2" y2="95.3" stroke="#8a6a28" stroke-width="1.0" opacity=".75"/><line x1="183.8" y1="85.3" x2="185.3" y2="93.1" stroke="#737a2c" stroke-width="0.5" opacity=".75"/><line x1="170.5" y1="83.1" x2="169.0" y2="94.0" stroke="#737a2c" stroke-width="0.9" opacity=".75"/><line x1="169.6" y1="74.2" x2="166.1" y2="86.4" stroke="#c9c878" stroke-width="0.9" opacity=".75"/><line x1="154.3" y1="77.1" x2="155.0" y2="88.4" stroke="#c2c06a" stroke-width="1.0" opacity=".75"/><line x1="107.7" y1="89.0" x2="108.1" y2="98.2" stroke="#8a6a28" stroke-width="0.6" opacity=".75"/><line x1="65.4" y1="102.9" x2="66.0" y2="113.5" stroke="#8a6a28" stroke-width="0.6" opacity=".75"/><line x1="35.6" y1="62.8" x2="36.6" y2="87.5" stroke="#c2c06a" stroke-width="0.6" opacity=".75"/><line x1="193.6" y1="82.0" x2="192.7" y2="92.4" stroke="#c9c878" stroke-width="1.2" opacity=".75"/><line x1="74.1" y1="90.8" x2="73.8" y2="106.6" stroke="#5a5220" stroke-width="0.6" opacity=".75"/><line x1="41.1" y1="96.1" x2="37.3" y2="105.9" stroke="#9a7a30" stroke-width="0.7" opacity=".75"/><line x1="50.7" y1="62.8" x2="47.8" y2="82.5" stroke="#b5b65a" stroke-width="1.2" opacity=".75"/><line x1="135.6" y1="82.6" x2="135.8" y2="96.3" stroke="#737a2c" stroke-width="0.6" opacity=".75"/><line x1="14.0" y1="48.9" x2="11.5" y2="63.1" stroke="#9aa044" stroke-width="0.6" opacity=".75"/><line x1="24.2" y1="34.0" x2="21.5" y2="51.3" stroke="#9aa044" stroke-width="0.9" opacity=".75"/><line x1="55.8" y1="106.0" x2="55.6" y2="118.3" stroke="#6a6424" stroke-width="0.8" opacity=".75"/><line x1="183.0" y1="80.5" x2="181.5" y2="93.1" stroke="#c9c878" stroke-width="0.5" opacity=".75"/><line x1="82.1" y1="63.3" x2="79.8" y2="79.0" stroke="#b5b65a" stroke-width="1.0" opacity=".75"/><line x1="131.7" y1="68.0" x2="131.0" y2="83.0" stroke="#c9c878" stroke-width="1.1" opacity=".75"/><line x1="76.1" y1="62.4" x2="75.1" y2="70.6" stroke="#d3d28a" stroke-width="0.6" opacity=".75"/><line x1="175.7" y1="74.6" x2="171.9" y2="88.6" stroke="#b5b65a" stroke-width="0.9" opacity=".75"/><line x1="136.7" y1="89.9" x2="136.3" y2="96.2" stroke="#6a6424" stroke-width="0.6" opacity=".75"/><line x1="14.2" y1="40.2" x2="13.9" y2="57.3" stroke="#9aa044" stroke-width="0.9" opacity=".75"/><line x1="190.2" y1="86.5" x2="188.6" y2="92.7" stroke="#c2c06a" stroke-width="0.7" opacity=".75"/><line x1="106.1" y1="61.7" x2="105.7" y2="69.0" stroke="#9aa044" stroke-width="1.1" opacity=".75"/><line x1="182.7" y1="81.8" x2="180.7" y2="93.2" stroke="#9aa044" stroke-width="0.6" opacity=".75"/><line x1="77.4" y1="85.4" x2="78.6" y2="93.2" stroke="#8b8e36" stroke-width="1.0" opacity=".75"/><line x1="154.1" y1="86.8" x2="154.4" y2="95.1" stroke="#9a7a30" stroke-width="0.6" opacity=".75"/><line x1="91.9" y1="56.1" x2="88.5" y2="81.0" stroke="#d3d28a" stroke-width="0.8" opacity=".75"/><line x1="110.0" y1="91.1" x2="107.6" y2="98.0" stroke="#6a6424" stroke-width="0.9" opacity=".75"/><line x1="24.4" y1="76.9" x2="23.2" y2="85.7" stroke="#b0b052" stroke-width="0.7" opacity=".75"/><line x1="69.1" y1="59.4" x2="65.4" y2="78.3" stroke="#9aa044" stroke-width="0.7" opacity=".75"/><line x1="88.5" y1="76.3" x2="89.0" y2="92.4" stroke="#b0b052" stroke-width="0.9" opacity=".75"/><line x1="28.2" y1="77.1" x2="26.5" y2="86.9" stroke="#b0b052" stroke-width="0.5" opacity=".75"/><line x1="30.1" y1="99.9" x2="27.0" y2="122.0" stroke="#9a7a30" stroke-width="0.9" opacity=".75"/><line x1="5.6" y1="35.4" x2="3.7" y2="48.0" stroke="#d3d28a" stroke-width="0.7" opacity=".75"/><line x1="42.1" y1="76.7" x2="39.9" y2="97.1" stroke="#c2c06a" stroke-width="0.8" opacity=".75"/><line x1="128.2" y1="87.3" x2="126.4" y2="96.8" stroke="#6a6424" stroke-width="0.7" opacity=".75"/><line x1="144.9" y1="70.1" x2="145.3" y2="84.2" stroke="#9aa044" stroke-width="0.8" opacity=".75"/><line x1="127.1" y1="70.5" x2="127.7" y2="79.0" stroke="#b5b65a" stroke-width="0.5" opacity=".75"/><line x1="103.5" y1="76.6" x2="103.2" y2="91.4" stroke="#8b8e36" stroke-width="1.0" opacity=".75"/><line x1="6.4" y1="58.0" x2="6.4" y2="84.9" stroke="#9aa044" stroke-width="0.8" opacity=".75"/><line x1="116.3" y1="62.7" x2="117.6" y2="83.9" stroke="#b5b65a" stroke-width="0.8" opacity=".75"/><line x1="117.2" y1="71.3" x2="115.0" y2="83.9" stroke="#d3d28a" stroke-width="0.8" opacity=".75"/><line x1="101.2" y1="83.9" x2="98.3" y2="91.0" stroke="#b0b052" stroke-width="0.9" opacity=".75"/><line x1="158.3" y1="87.5" x2="156.5" y2="94.8" stroke="#5a5220" stroke-width="0.7" opacity=".75"/><line x1="133.3" y1="63.3" x2="131.1" y2="91.0" stroke="#b5b65a" stroke-width="0.7" opacity=".75"/><line x1="160.6" y1="84.1" x2="162.1" y2="94.6" stroke="#b0b052" stroke-width="0.8" opacity=".75"/><line x1="77.5" y1="53.1" x2="77.0" y2="62.1" stroke="#b5b65a" stroke-width="0.5" opacity=".75"/><line x1="183.1" y1="84.5" x2="183.7" y2="93.1" stroke="#b0b052" stroke-width="0.8" opacity=".75"/><line x1="65.7" y1="83.1" x2="62.7" y2="109.2" stroke="#b0b052" stroke-width="0.6" opacity=".75"/><line x1="134.3" y1="65.0" x2="134.7" y2="87.6" stroke="#9aa044" stroke-width="0.8" opacity=".75"/><line x1="175.9" y1="83.7" x2="175.5" y2="93.6" stroke="#737a2c" stroke-width="0.9" opacity=".75"/><line x1="22.2" y1="35.5" x2="23.3" y2="48.3" stroke="#d3d28a" stroke-width="0.6" opacity=".75"/><line x1="81.3" y1="74.0" x2="78.2" y2="98.5" stroke="#b0b052" stroke-width="0.7" opacity=".75"/><line x1="79.9" y1="91.3" x2="79.6" y2="102.1" stroke="#8a6a28" stroke-width="1.1" opacity=".75"/><line x1="96.8" y1="81.5" x2="93.3" y2="96.1" stroke="#c2c06a" stroke-width="1.0" opacity=".75"/><line x1="32.6" y1="79.6" x2="33.2" y2="90.0" stroke="#737a2c" stroke-width="1.0" opacity=".75"/><line x1="73.9" y1="90.2" x2="73.1" y2="106.8" stroke="#9a7a30" stroke-width="1.1" opacity=".75"/><line x1="70.2" y1="79.4" x2="68.0" y2="95.9" stroke="#c2c06a" stroke-width="1.0" opacity=".75"/><line x1="45.8" y1="54.2" x2="43.2" y2="76.3" stroke="#d3d28a" stroke-width="0.5" opacity=".75"/><line x1="161.7" y1="75.6" x2="162.7" y2="94.6" stroke="#9aa044" stroke-width="0.5" opacity=".75"/><line x1="35.2" y1="64.9" x2="33.9" y2="82.6" stroke="#c2c06a" stroke-width="0.7" opacity=".75"/><line x1="147.6" y1="66.5" x2="143.8" y2="79.3" stroke="#c9c878" stroke-width="1.0" opacity=".75"/><line x1="111.3" y1="77.1" x2="109.8" y2="90.4" stroke="#8b8e36" stroke-width="1.2" opacity=".75"/><line x1="69.9" y1="62.8" x2="67.1" y2="74.3" stroke="#c9c878" stroke-width="0.6" opacity=".75"/><line x1="104.9" y1="78.8" x2="104.1" y2="87.5" stroke="#8b8e36" stroke-width="1.1" opacity=".75"/><line x1="181.1" y1="83.6" x2="180.4" y2="93.3" stroke="#737a2c" stroke-width="1.1" opacity=".75"/><line x1="192.5" y1="81.0" x2="191.4" y2="92.5" stroke="#c9c878" stroke-width="0.7" opacity=".75"/><line x1="57.4" y1="57.5" x2="53.9" y2="66.4" stroke="#9aa044" stroke-width="0.5" opacity=".75"/><line x1="155.5" y1="87.7" x2="152.4" y2="95.0" stroke="#9a7a30" stroke-width="1.1" opacity=".75"/><line x1="167.5" y1="81.1" x2="166.5" y2="94.2" stroke="#8b8e36" stroke-width="1.0" opacity=".75"/><line x1="180.2" y1="84.6" x2="178.5" y2="93.3" stroke="#b0b052" stroke-width="1.0" opacity=".75"/><line x1="127.8" y1="76.9" x2="125.7" y2="93.4" stroke="#737a2c" stroke-width="0.7" opacity=".75"/><line x1="125.5" y1="68.5" x2="121.9" y2="90.5" stroke="#c9c878" stroke-width="0.9" opacity=".75"/><line x1="112.7" y1="89.4" x2="113.6" y2="97.8" stroke="#5a5220" stroke-width="0.6" opacity=".75"/><line x1="110.8" y1="62.8" x2="108.8" y2="90.5" stroke="#b5b65a" stroke-width="0.6" opacity=".75"/><line x1="186.0" y1="83.8" x2="185.2" y2="92.9" stroke="#c2c06a" stroke-width="1.2" opacity=".75"/><line x1="134.3" y1="86.1" x2="132.7" y2="96.4" stroke="#6a6424" stroke-width="1.0" opacity=".75"/><line x1="16.9" y1="88.0" x2="17.7" y2="107.5" stroke="#8b8e36" stroke-width="0.6" opacity=".75"/><line x1="27.3" y1="43.6" x2="26.4" y2="64.9" stroke="#d3d28a" stroke-width="1.2" opacity=".75"/><line x1="110.0" y1="63.2" x2="107.3" y2="75.8" stroke="#b5b65a" stroke-width="0.7" opacity=".75"/><line x1="29.6" y1="75.2" x2="30.3" y2="100.4" stroke="#8b8e36" stroke-width="1.2" opacity=".75"/><line x1="4.0" y1="69.9" x2="5.1" y2="88.9" stroke="#737a2c" stroke-width="0.6" opacity=".75"/><line x1="101.8" y1="91.1" x2="99.4" y2="97.8" stroke="#6a6424" stroke-width="0.7" opacity=".75"/><line x1="193.5" y1="83.1" x2="193.3" y2="92.4" stroke="#c9c878" stroke-width="0.9" opacity=".75"/><line x1="113.7" y1="83.8" x2="111.7" y2="97.8" stroke="#b0b052" stroke-width="1.2" opacity=".75"/><line x1="42.4" y1="64.7" x2="40.2" y2="75.8" stroke="#737a2c" stroke-width="0.7" opacity=".75"/><line x1="2.9" y1="95.3" x2="1.8" y2="107.0" stroke="#5a5220" stroke-width="0.7" opacity=".75"/><line x1="132.3" y1="74.3" x2="129.2" y2="85.4" stroke="#c2c06a" stroke-width="0.6" opacity=".75"/><line x1="49.7" y1="73.5" x2="46.7" y2="96.7" stroke="#737a2c" stroke-width="1.0" opacity=".75"/><line x1="119.6" y1="78.5" x2="116.6" y2="97.2" stroke="#b0b052" stroke-width="0.7" opacity=".75"/><line x1="59.1" y1="63.5" x2="59.4" y2="85.5" stroke="#d3d28a" stroke-width="0.9" opacity=".75"/><line x1="15.4" y1="94.3" x2="11.6" y2="105.7" stroke="#8a6a28" stroke-width="0.9" opacity=".75"/><line x1="27.1" y1="86.4" x2="28.5" y2="93.9" stroke="#b0b052" stroke-width="0.8" opacity=".75"/><line x1="26.6" y1="97.1" x2="28.0" y2="120.3" stroke="#5a5220" stroke-width="0.6" opacity=".75"/><line x1="177.7" y1="81.6" x2="176.3" y2="93.5" stroke="#b0b052" stroke-width="1.1" opacity=".75"/><line x1="2.7" y1="70.8" x2="1.0" y2="85.1" stroke="#b0b052" stroke-width="0.6" opacity=".75"/><line x1="13.3" y1="39.3" x2="14.4" y2="56.1" stroke="#c9c878" stroke-width="0.7" opacity=".75"/><line x1="182.4" y1="77.6" x2="179.5" y2="93.2" stroke="#d3d28a" stroke-width="0.6" opacity=".75"/><line x1="132.9" y1="87.0" x2="130.9" y2="96.5" stroke="#9a7a30" stroke-width="1.0" opacity=".75"/><line x1="181.1" y1="77.2" x2="181.0" y2="93.3" stroke="#c9c878" stroke-width="1.0" opacity=".75"/><line x1="24.1" y1="54.5" x2="23.0" y2="73.3" stroke="#b5b65a" stroke-width="0.9" opacity=".75"/><line x1="111.3" y1="84.1" x2="107.7" y2="97.9" stroke="#b0b052" stroke-width="0.7" opacity=".75"/><line x1="15.0" y1="52.8" x2="11.9" y2="75.5" stroke="#c9c878" stroke-width="0.7" opacity=".75"/><line x1="111.4" y1="68.6" x2="109.3" y2="92.1" stroke="#9aa044" stroke-width="1.2" opacity=".75"/><line x1="95.7" y1="57.6" x2="97.1" y2="66.8" stroke="#9aa044" stroke-width="0.5" opacity=".75"/><line x1="149.5" y1="74.4" x2="145.7" y2="81.5" stroke="#c9c878" stroke-width="0.8" opacity=".75"/><line x1="161.2" y1="87.8" x2="161.6" y2="94.3" stroke="#9a7a30" stroke-width="0.8" opacity=".75"/><line x1="127.9" y1="74.5" x2="124.9" y2="84.5" stroke="#b0b052" stroke-width="1.2" opacity=".75"/><line x1="66.0" y1="97.3" x2="63.4" y2="113.1" stroke="#9a7a30" stroke-width="1.0" opacity=".75"/><line x1="32.6" y1="40.7" x2="31.0" y2="59.4" stroke="#9aa044" stroke-width="0.9" opacity=".75"/><line x1="50.3" y1="111.9" x2="48.8" y2="122.0" stroke="#8a6a28" stroke-width="0.9" opacity=".75"/><line x1="180.2" y1="84.4" x2="177.5" y2="93.3" stroke="#737a2c" stroke-width="0.9" opacity=".75"/><line x1="30.9" y1="111.4" x2="30.4" y2="122.0" stroke="#6a6424" stroke-width="0.5" opacity=".75"/><line x1="94.0" y1="60.0" x2="93.7" y2="82.4" stroke="#9aa044" stroke-width="1.0" opacity=".75"/><line x1="78.6" y1="73.2" x2="74.9" y2="97.9" stroke="#c2c06a" stroke-width="0.7" opacity=".75"/><line x1="125.3" y1="62.0" x2="122.8" y2="71.2" stroke="#d3d28a" stroke-width="0.8" opacity=".75"/><line x1="16.6" y1="97.7" x2="17.0" y2="108.8" stroke="#9a7a30" stroke-width="0.7" opacity=".75"/><line x1="177.0" y1="80.7" x2="178.2" y2="93.5" stroke="#d3d28a" stroke-width="0.8" opacity=".75"/><line x1="94.5" y1="66.7" x2="95.6" y2="91.2" stroke="#b5b65a" stroke-width="1.0" opacity=".75"/><line x1="135.2" y1="74.0" x2="134.9" y2="86.6" stroke="#8b8e36" stroke-width="1.1" opacity=".75"/><line x1="139.5" y1="84.7" x2="136.1" y2="96.0" stroke="#8b8e36" stroke-width="0.8" opacity=".75"/><line x1="140.0" y1="63.2" x2="138.6" y2="87.0" stroke="#b5b65a" stroke-width="1.0" opacity=".75"/><line x1="132.4" y1="72.6" x2="133.7" y2="96.5" stroke="#d3d28a" stroke-width="0.6" opacity=".75"/><line x1="50.9" y1="58.4" x2="47.9" y2="73.0" stroke="#b5b65a" stroke-width="1.0" opacity=".75"/><line x1="148.6" y1="89.0" x2="148.7" y2="95.4" stroke="#8a6a28" stroke-width="1.0" opacity=".75"/><line x1="85.5" y1="69.7" x2="84.6" y2="84.3" stroke="#d3d28a" stroke-width="1.2" opacity=".75"/><line x1="125.3" y1="75.3" x2="121.5" y2="89.8" stroke="#737a2c" stroke-width="1.1" opacity=".75"/><line x1="98.0" y1="92.0" x2="97.8" y2="98.8" stroke="#6a6424" stroke-width="0.9" opacity=".75"/><line x1="61.9" y1="59.8" x2="61.7" y2="69.9" stroke="#b5b65a" stroke-width="1.2" opacity=".75"/><line x1="64.8" y1="103.2" x2="63.7" y2="114.0" stroke="#5a5220" stroke-width="0.9" opacity=".75"/><line x1="59.4" y1="73.3" x2="56.9" y2="80.6" stroke="#b0b052" stroke-width="0.9" opacity=".75"/><line x1="95.6" y1="57.5" x2="94.2" y2="82.4" stroke="#d3d28a" stroke-width="1.0" opacity=".75"/><line x1="49.0" y1="50.4" x2="47.3" y2="69.2" stroke="#c9c878" stroke-width="0.8" opacity=".75"/><line x1="66.6" y1="104.0" x2="63.8" y2="112.6" stroke="#9a7a30" stroke-width="1.1" opacity=".75"/><line x1="154.8" y1="87.1" x2="153.2" y2="94.8" stroke="#9a7a30" stroke-width="1.0" opacity=".75"/><line x1="149.4" y1="78.2" x2="148.7" y2="95.4" stroke="#737a2c" stroke-width="0.8" opacity=".75"/><line x1="2.4" y1="33.6" x2="1.8" y2="43.6" stroke="#d3d28a" stroke-width="0.6" opacity=".75"/><line x1="189.9" y1="85.1" x2="187.4" y2="92.7" stroke="#737a2c" stroke-width="1.1" opacity=".75"/><line x1="8.1" y1="30.5" x2="9.4" y2="37.8" stroke="#d3d28a" stroke-width="0.6" opacity=".75"/><line x1="49.5" y1="108.2" x2="47.0" y2="122.0" stroke="#6a6424" stroke-width="1.0" opacity=".75"/><line x1="85.8" y1="58.5" x2="84.0" y2="73.8" stroke="#c9c878" stroke-width="1.0" opacity=".75"/><line x1="133.5" y1="79.0" x2="130.9" y2="86.1" stroke="#8b8e36" stroke-width="0.9" opacity=".75"/><line x1="78.9" y1="67.8" x2="78.3" y2="90.1" stroke="#9aa044" stroke-width="0.6" opacity=".75"/><line x1="48.1" y1="94.7" x2="49.2" y2="122.0" stroke="#737a2c" stroke-width="0.9" opacity=".75"/><line x1="65.8" y1="44.3" x2="65.9" y2="68.6" stroke="#9aa044" stroke-width="1.1" opacity=".75"/><line x1="37.6" y1="32.5" x2="36.0" y2="40.6" stroke="#b5b65a" stroke-width="0.8" opacity=".75"/><line x1="85.6" y1="71.5" x2="83.9" y2="84.5" stroke="#b0b052" stroke-width="0.7" opacity=".75"/><line x1="151.5" y1="76.0" x2="151.1" y2="92.4" stroke="#9aa044" stroke-width="1.0" opacity=".75"/><line x1="98.9" y1="85.6" x2="99.0" y2="98.7" stroke="#b0b052" stroke-width="0.7" opacity=".75"/><line x1="141.9" y1="88.5" x2="140.3" y2="95.9" stroke="#9a7a30" stroke-width="1.0" opacity=".75"/><line x1="44.3" y1="96.7" x2="43.4" y2="114.5" stroke="#5a5220" stroke-width="0.8" opacity=".75"/><line x1="164.6" y1="75.6" x2="164.0" y2="91.0" stroke="#d3d28a" stroke-width="0.7" opacity=".75"/><line x1="78.1" y1="97.2" x2="74.4" y2="103.5" stroke="#9a7a30" stroke-width="0.9" opacity=".75"/><line x1="161.0" y1="85.2" x2="161.1" y2="94.6" stroke="#737a2c" stroke-width="0.9" opacity=".75"/><line x1="49.3" y1="91.9" x2="50.7" y2="110.2" stroke="#8b8e36" stroke-width="0.6" opacity=".75"/><line x1="153.0" y1="73.0" x2="150.5" y2="95.0" stroke="#d3d28a" stroke-width="0.9" opacity=".75"/><line x1="103.5" y1="74.8" x2="103.2" y2="84.5" stroke="#c2c06a" stroke-width="0.7" opacity=".75"/><line x1="158.0" y1="75.9" x2="156.5" y2="85.1" stroke="#d3d28a" stroke-width="0.9" opacity=".75"/><line x1="194.3" y1="84.1" x2="192.6" y2="92.4" stroke="#b5b65a" stroke-width="0.5" opacity=".75"/><line x1="1.8" y1="75.1" x2="2.3" y2="84.8" stroke="#737a2c" stroke-width="0.8" opacity=".75"/><line x1="53.6" y1="65.0" x2="52.6" y2="82.8" stroke="#d3d28a" stroke-width="0.8" opacity=".75"/><line x1="79.3" y1="86.7" x2="76.4" y2="102.6" stroke="#8b8e36" stroke-width="0.5" opacity=".75"/><line x1="178.5" y1="82.7" x2="175.9" y2="89.3" stroke="#8b8e36" stroke-width="0.8" opacity=".75"/><line x1="136.3" y1="61.9" x2="133.5" y2="85.9" stroke="#b5b65a" stroke-width="1.0" opacity=".75"/><line x1="137.1" y1="71.0" x2="137.7" y2="96.2" stroke="#c9c878" stroke-width="1.0" opacity=".75"/><line x1="5.4" y1="108.5" x2="4.8" y2="122.0" stroke="#5a5220" stroke-width="1.2" opacity=".75"/><line x1="43.8" y1="50.4" x2="43.3" y2="70.0" stroke="#c9c878" stroke-width="1.1" opacity=".75"/><line x1="154.4" y1="86.4" x2="155.5" y2="95.0" stroke="#8b8e36" stroke-width="1.0" opacity=".75"/><line x1="33.6" y1="59.5" x2="33.8" y2="81.0" stroke="#c9c878" stroke-width="0.7" opacity=".75"/><line x1="167.4" y1="78.7" x2="167.3" y2="86.0" stroke="#9aa044" stroke-width="0.5" opacity=".75"/><line x1="136.4" y1="62.9" x2="132.9" y2="87.4" stroke="#d3d28a" stroke-width="0.5" opacity=".75"/><line x1="69.2" y1="103.6" x2="65.5" y2="110.5" stroke="#9a7a30" stroke-width="0.6" opacity=".75"/><line x1="4.1" y1="88.6" x2="0.3" y2="98.5" stroke="#737a2c" stroke-width="0.6" opacity=".75"/><line x1="133.0" y1="62.3" x2="132.1" y2="85.5" stroke="#c9c878" stroke-width="0.7" opacity=".75"/><line x1="70.6" y1="59.8" x2="66.6" y2="72.2" stroke="#b5b65a" stroke-width="0.8" opacity=".75"/><line x1="81.6" y1="58.5" x2="82.3" y2="68.3" stroke="#c9c878" stroke-width="0.8" opacity=".75"/><line x1="100.3" y1="68.1" x2="100.1" y2="93.6" stroke="#9aa044" stroke-width="0.9" opacity=".75"/><line x1="81.0" y1="67.6" x2="79.4" y2="84.7" stroke="#9aa044" stroke-width="0.9" opacity=".75"/><line x1="195.5" y1="85.3" x2="191.7" y2="92.3" stroke="#b5b65a" stroke-width="0.7" opacity=".75"/><line x1="6.2" y1="97.5" x2="5.1" y2="117.2" stroke="#5a5220" stroke-width="0.8" opacity=".75"/><line x1="180.9" y1="82.0" x2="181.0" y2="93.3" stroke="#b5b65a" stroke-width="0.8" opacity=".75"/><line x1="77.9" y1="76.0" x2="74.3" y2="101.4" stroke="#8b8e36" stroke-width="0.7" opacity=".75"/><line x1="190.3" y1="83.3" x2="186.5" y2="92.6" stroke="#b5b65a" stroke-width="0.7" opacity=".75"/><line x1="69.9" y1="101.3" x2="66.0" y2="110.0" stroke="#6a6424" stroke-width="0.6" opacity=".75"/><line x1="76.3" y1="80.7" x2="75.6" y2="89.1" stroke="#c2c06a" stroke-width="0.9" opacity=".75"/><line x1="11.0" y1="89.5" x2="10.7" y2="97.1" stroke="#8b8e36" stroke-width="0.7" opacity=".75"/><line x1="87.6" y1="75.6" x2="83.7" y2="89.0" stroke="#b0b052" stroke-width="1.0" opacity=".75"/><line x1="181.2" y1="82.6" x2="179.1" y2="93.3" stroke="#737a2c" stroke-width="1.2" opacity=".75"/><line x1="109.5" y1="62.0" x2="106.6" y2="82.0" stroke="#b5b65a" stroke-width="1.1" opacity=".75"/><line x1="43.9" y1="45.6" x2="44.2" y2="59.2" stroke="#c9c878" stroke-width="0.9" opacity=".75"/><line x1="145.1" y1="86.7" x2="145.5" y2="95.7" stroke="#5a5220" stroke-width="1.1" opacity=".75"/><line x1="145.4" y1="71.8" x2="146.6" y2="80.3" stroke="#d3d28a" stroke-width="0.5" opacity=".75"/><line x1="110.4" y1="71.5" x2="108.5" y2="95.6" stroke="#b5b65a" stroke-width="1.0" opacity=".75"/><line x1="81.4" y1="79.1" x2="78.9" y2="85.9" stroke="#737a2c" stroke-width="0.6" opacity=".75"/><line x1="16.3" y1="47.4" x2="13.8" y2="68.7" stroke="#9aa044" stroke-width="1.1" opacity=".75"/><line x1="137.3" y1="89.6" x2="138.4" y2="96.2" stroke="#9a7a30" stroke-width="0.7" opacity=".75"/><line x1="1.4" y1="62.9" x2="0.3" y2="81.8" stroke="#b0b052" stroke-width="0.5" opacity=".75"/><line x1="5.5" y1="114.4" x2="3.6" y2="122.0" stroke="#5a5220" stroke-width="1.2" opacity=".75"/><line x1="126.1" y1="78.9" x2="124.8" y2="89.4" stroke="#b0b052" stroke-width="1.0" opacity=".75"/><line x1="110.8" y1="66.7" x2="107.2" y2="76.9" stroke="#d3d28a" stroke-width="1.1" opacity=".75"/><line x1="6.6" y1="42.5" x2="6.0" y2="58.8" stroke="#9aa044" stroke-width="1.0" opacity=".75"/><line x1="149.2" y1="82.4" x2="146.0" y2="89.6" stroke="#b0b052" stroke-width="0.6" opacity=".75"/><line x1="7.4" y1="27.8" x2="4.2" y2="53.1" stroke="#9aa044" stroke-width="1.0" opacity=".75"/><line x1="27.2" y1="57.0" x2="26.5" y2="84.7" stroke="#d3d28a" stroke-width="0.7" opacity=".75"/><line x1="35.3" y1="68.1" x2="34.8" y2="83.7" stroke="#b0b052" stroke-width="0.6" opacity=".75"/><line x1="33.1" y1="75.2" x2="31.1" y2="89.5" stroke="#8b8e36" stroke-width="1.0" opacity=".75"/><line x1="18.9" y1="24.6" x2="16.0" y2="37.4" stroke="#d3d28a" stroke-width="0.7" opacity=".75"/><line x1="1.8" y1="105.9" x2="-0.6" y2="122.0" stroke="#9a7a30" stroke-width="0.7" opacity=".75"/><line x1="130.3" y1="65.4" x2="131.4" y2="89.0" stroke="#b5b65a" stroke-width="0.6" opacity=".75"/><line x1="128.0" y1="68.4" x2="128.1" y2="80.9" stroke="#c9c878" stroke-width="1.0" opacity=".75"/><line x1="137.1" y1="88.0" x2="137.9" y2="96.2" stroke="#9a7a30" stroke-width="0.7" opacity=".75"/><line x1="49.3" y1="79.8" x2="50.1" y2="88.5" stroke="#c2c06a" stroke-width="0.8" opacity=".75"/><line x1="118.7" y1="90.1" x2="120.2" y2="97.4" stroke="#5a5220" stroke-width="1.1" opacity=".75"/><line x1="128.5" y1="89.6" x2="127.3" y2="96.8" stroke="#9a7a30" stroke-width="0.6" opacity=".75"/><line x1="152.3" y1="80.9" x2="149.5" y2="95.2" stroke="#737a2c" stroke-width="1.2" opacity=".75"/><line x1="76.3" y1="61.9" x2="73.8" y2="82.6" stroke="#d3d28a" stroke-width="0.8" opacity=".75"/><line x1="136.0" y1="66.6" x2="134.1" y2="91.2" stroke="#c9c878" stroke-width="0.9" opacity=".75"/><line x1="143.8" y1="66.0" x2="143.3" y2="87.2" stroke="#b5b65a" stroke-width="0.8" opacity=".75"/><line x1="99.4" y1="57.8" x2="99.8" y2="73.3" stroke="#c9c878" stroke-width="0.6" opacity=".75"/><line x1="90.7" y1="73.3" x2="88.5" y2="94.1" stroke="#737a2c" stroke-width="0.8" opacity=".75"/><line x1="61.3" y1="92.6" x2="62.3" y2="108.8" stroke="#8b8e36" stroke-width="1.0" opacity=".75"/><line x1="187.9" y1="79.4" x2="186.2" y2="92.8" stroke="#d3d28a" stroke-width="1.1" opacity=".75"/><line x1="106.9" y1="64.8" x2="108.2" y2="85.6" stroke="#b5b65a" stroke-width="0.5" opacity=".75"/><line x1="19.3" y1="27.4" x2="19.0" y2="43.5" stroke="#b5b65a" stroke-width="0.9" opacity=".75"/><line x1="167.8" y1="76.8" x2="166.4" y2="85.3" stroke="#d3d28a" stroke-width="0.6" opacity=".75"/><line x1="114.9" y1="86.9" x2="111.6" y2="96.4" stroke="#5a5220" stroke-width="0.9" opacity=".75"/><line x1="161.5" y1="74.8" x2="162.4" y2="83.5" stroke="#b5b65a" stroke-width="0.9" opacity=".75"/><line x1="114.1" y1="87.3" x2="111.7" y2="97.7" stroke="#5a5220" stroke-width="1.0" opacity=".75"/><line x1="124.0" y1="74.6" x2="124.7" y2="80.8" stroke="#c2c06a" stroke-width="0.8" opacity=".75"/><line x1="178.3" y1="76.4" x2="176.3" y2="88.2" stroke="#c9c878" stroke-width="0.8" opacity=".75"/><line x1="19.0" y1="112.2" x2="17.5" y2="122.0" stroke="#6a6424" stroke-width="0.9" opacity=".75"/><line x1="157.6" y1="75.2" x2="158.7" y2="94.8" stroke="#9aa044" stroke-width="1.0" opacity=".75"/><line x1="167.5" y1="71.5" x2="166.5" y2="80.1" stroke="#9aa044" stroke-width="1.2" opacity=".75"/><line x1="186.8" y1="81.9" x2="186.1" y2="92.9" stroke="#d3d28a" stroke-width="1.0" opacity=".75"/><line x1="87.1" y1="65.7" x2="87.1" y2="79.8" stroke="#c9c878" stroke-width="0.5" opacity=".75"/><line x1="33.1" y1="40.7" x2="34.0" y2="50.3" stroke="#d3d28a" stroke-width="1.0" opacity=".75"/><line x1="12.6" y1="86.4" x2="9.6" y2="97.1" stroke="#c2c06a" stroke-width="1.2" opacity=".75"/><line x1="55.1" y1="41.1" x2="55.4" y2="62.6" stroke="#9aa044" stroke-width="0.6" opacity=".75"/><line x1="7.3" y1="84.4" x2="7.8" y2="100.8" stroke="#8b8e36" stroke-width="1.1" opacity=".75"/><line x1="35.0" y1="71.9" x2="32.1" y2="84.7" stroke="#c2c06a" stroke-width="1.0" opacity=".75"/><line x1="14.4" y1="109.0" x2="12.2" y2="122.0" stroke="#8a6a28" stroke-width="1.0" opacity=".75"/><line x1="177.1" y1="84.7" x2="173.9" y2="91.6" stroke="#8b8e36" stroke-width="0.9" opacity=".75"/><line x1="186.2" y1="85.7" x2="187.0" y2="92.9" stroke="#737a2c" stroke-width="0.9" opacity=".75"/><polygon points="0,88 56,86 70,104 56,121 0,124" fill="#4f4519" opacity=".5" filter="url(#pb3)"/><line x1="4" y1="150" x2="45" y2="28" stroke="#9a6c2a" stroke-width="1.6"/><line x1="20.4" y1="101.2" x2="28.0" y2="95.8" stroke="#565c26" stroke-width=".9"/><line x1="20.4" y1="101.2" x2="12.7" y2="90.3" stroke="#6a6e2e" stroke-width=".8"/><line x1="23.9" y1="90.8" x2="38.3" y2="85.6" stroke="#565c26" stroke-width=".9"/><line x1="23.9" y1="90.8" x2="20.4" y2="82.8" stroke="#6a6e2e" stroke-width=".8"/><line x1="27.4" y1="80.5" x2="34.7" y2="75.0" stroke="#565c26" stroke-width=".9"/><line x1="27.4" y1="80.5" x2="21.4" y2="69.7" stroke="#6a6e2e" stroke-width=".8"/><line x1="30.9" y1="70.1" x2="40.7" y2="65.1" stroke="#565c26" stroke-width=".9"/><line x1="30.9" y1="70.1" x2="27.3" y2="64.3" stroke="#6a6e2e" stroke-width=".8"/><line x1="34.3" y1="59.7" x2="45.4" y2="54.2" stroke="#565c26" stroke-width=".9"/><line x1="34.3" y1="59.7" x2="30.7" y2="51.7" stroke="#6a6e2e" stroke-width=".8"/><line x1="37.8" y1="49.3" x2="48.0" y2="36.6" stroke="#565c26" stroke-width=".9"/><line x1="37.8" y1="49.3" x2="29.0" y2="39.0" stroke="#6a6e2e" stroke-width=".8"/><line x1="41.3" y1="39.0" x2="54.1" y2="31.7" stroke="#565c26" stroke-width=".9"/><line x1="41.3" y1="39.0" x2="36.7" y2="27.1" stroke="#6a6e2e" stroke-width=".8"/><line x1="10" y1="146" x2="60" y2="45" stroke="#8a6428" stroke-width="1.3"/><line x1="30.0" y1="105.6" x2="44.1" y2="94.8" stroke="#565c26" stroke-width=".9"/><line x1="30.0" y1="105.6" x2="26.1" y2="99.6" stroke="#6a6e2e" stroke-width=".8"/><line x1="34.2" y1="97.0" x2="43.9" y2="88.4" stroke="#565c26" stroke-width=".9"/><line x1="34.2" y1="97.0" x2="29.4" y2="87.5" stroke="#6a6e2e" stroke-width=".8"/><line x1="38.5" y1="88.4" x2="45.0" y2="82.6" stroke="#565c26" stroke-width=".9"/><line x1="38.5" y1="88.4" x2="30.7" y2="84.1" stroke="#6a6e2e" stroke-width=".8"/><line x1="42.8" y1="79.8" x2="51.6" y2="71.2" stroke="#565c26" stroke-width=".9"/><line x1="42.8" y1="79.8" x2="33.0" y2="74.5" stroke="#6a6e2e" stroke-width=".8"/><line x1="47.0" y1="71.3" x2="61.1" y2="62.3" stroke="#565c26" stroke-width=".9"/><line x1="47.0" y1="71.3" x2="39.5" y2="61.7" stroke="#6a6e2e" stroke-width=".8"/><line x1="51.2" y1="62.7" x2="66.1" y2="54.4" stroke="#565c26" stroke-width=".9"/><line x1="51.2" y1="62.7" x2="43.8" y2="54.4" stroke="#6a6e2e" stroke-width=".8"/><line x1="55.5" y1="54.1" x2="68.3" y2="46.2" stroke="#565c26" stroke-width=".9"/><line x1="55.5" y1="54.1" x2="51.8" y2="49.6" stroke="#6a6e2e" stroke-width=".8"/><line x1="2" y1="120" x2="28" y2="50" stroke="#7a6a2a" stroke-width="1.2"/><line x1="12.4" y1="92.0" x2="24.4" y2="79.6" stroke="#565c26" stroke-width=".9"/><line x1="12.4" y1="92.0" x2="3.8" y2="80.5" stroke="#6a6e2e" stroke-width=".8"/><line x1="14.6" y1="86.0" x2="27.7" y2="80.0" stroke="#565c26" stroke-width=".9"/><line x1="14.6" y1="86.0" x2="8.3" y2="80.4" stroke="#6a6e2e" stroke-width=".8"/><line x1="16.8" y1="80.1" x2="27.5" y2="69.3" stroke="#565c26" stroke-width=".9"/><line x1="16.8" y1="80.1" x2="10.3" y2="76.0" stroke="#6a6e2e" stroke-width=".8"/><line x1="19.0" y1="74.2" x2="28.2" y2="70.3" stroke="#565c26" stroke-width=".9"/><line x1="19.0" y1="74.2" x2="10.8" y2="65.7" stroke="#6a6e2e" stroke-width=".8"/><line x1="21.2" y1="68.2" x2="28.7" y2="60.5" stroke="#565c26" stroke-width=".9"/><line x1="21.2" y1="68.2" x2="14.8" y2="61.7" stroke="#6a6e2e" stroke-width=".8"/><line x1="23.5" y1="62.2" x2="33.6" y2="54.9" stroke="#565c26" stroke-width=".9"/><line x1="23.5" y1="62.2" x2="18.6" y2="57.2" stroke="#6a6e2e" stroke-width=".8"/><line x1="25.7" y1="56.3" x2="36.9" y2="45.7" stroke="#565c26" stroke-width=".9"/><line x1="25.7" y1="56.3" x2="17.9" y2="51.3" stroke="#6a6e2e" stroke-width=".8"/><line x1="20" y1="140" x2="68" y2="78" stroke="#9a6c2a" stroke-width="1.2"/><line x1="39.2" y1="115.2" x2="47.6" y2="105.9" stroke="#565c26" stroke-width=".9"/><line x1="39.2" y1="115.2" x2="35.0" y2="106.0" stroke="#6a6e2e" stroke-width=".8"/><line x1="43.3" y1="109.9" x2="53.3" y2="105.1" stroke="#565c26" stroke-width=".9"/><line x1="43.3" y1="109.9" x2="36.0" y2="103.5" stroke="#6a6e2e" stroke-width=".8"/><line x1="47.4" y1="104.7" x2="55.5" y2="98.7" stroke="#565c26" stroke-width=".9"/><line x1="47.4" y1="104.7" x2="42.3" y2="100.0" stroke="#6a6e2e" stroke-width=".8"/><line x1="51.4" y1="99.4" x2="61.0" y2="96.0" stroke="#565c26" stroke-width=".9"/><line x1="51.4" y1="99.4" x2="47.5" y2="92.9" stroke="#6a6e2e" stroke-width=".8"/><line x1="55.5" y1="94.1" x2="61.7" y2="85.9" stroke="#565c26" stroke-width=".9"/><line x1="55.5" y1="94.1" x2="46.4" y2="83.7" stroke="#6a6e2e" stroke-width=".8"/><line x1="59.6" y1="88.8" x2="72.0" y2="76.9" stroke="#565c26" stroke-width=".9"/><line x1="59.6" y1="88.8" x2="52.3" y2="78.3" stroke="#6a6e2e" stroke-width=".8"/><line x1="63.7" y1="83.6" x2="76.3" y2="76.1" stroke="#565c26" stroke-width=".9"/><line x1="63.7" y1="83.6" x2="55.0" y2="73.6" stroke="#6a6e2e" stroke-width=".8"/><line x1="36" y1="122" x2="96" y2="72" stroke="#8a7030" stroke-width="1.0"/><line x1="60.0" y1="102.0" x2="73.6" y2="89.4" stroke="#565c26" stroke-width=".9"/><line x1="60.0" y1="102.0" x2="51.6" y2="97.1" stroke="#6a6e2e" stroke-width=".8"/><line x1="65.1" y1="97.8" x2="71.5" y2="93.1" stroke="#565c26" stroke-width=".9"/><line x1="65.1" y1="97.8" x2="58.1" y2="88.7" stroke="#6a6e2e" stroke-width=".8"/><line x1="70.2" y1="93.5" x2="81.3" y2="89.5" stroke="#565c26" stroke-width=".9"/><line x1="70.2" y1="93.5" x2="64.9" y2="86.1" stroke="#6a6e2e" stroke-width=".8"/><line x1="75.3" y1="89.2" x2="85.2" y2="82.5" stroke="#565c26" stroke-width=".9"/><line x1="75.3" y1="89.2" x2="66.0" y2="83.6" stroke="#6a6e2e" stroke-width=".8"/><line x1="80.4" y1="85.0" x2="88.9" y2="75.5" stroke="#565c26" stroke-width=".9"/><line x1="80.4" y1="85.0" x2="72.7" y2="74.9" stroke="#6a6e2e" stroke-width=".8"/><line x1="85.5" y1="80.8" x2="92.3" y2="74.5" stroke="#565c26" stroke-width=".9"/><line x1="85.5" y1="80.8" x2="77.9" y2="73.3" stroke="#6a6e2e" stroke-width=".8"/><line x1="90.6" y1="76.5" x2="96.0" y2="72.9" stroke="#565c26" stroke-width=".9"/><line x1="90.6" y1="76.5" x2="84.3" y2="68.1" stroke="#6a6e2e" stroke-width=".8"/><line x1="6" y1="104" x2="20" y2="36" stroke="#6e6a2c" stroke-width="1.0"/><line x1="11.6" y1="76.8" x2="22.6" y2="68.1" stroke="#565c26" stroke-width=".9"/><line x1="11.6" y1="76.8" x2="4.8" y2="68.9" stroke="#6a6e2e" stroke-width=".8"/><line x1="12.8" y1="71.0" x2="27.4" y2="65.9" stroke="#565c26" stroke-width=".9"/><line x1="12.8" y1="71.0" x2="5.2" y2="62.0" stroke="#6a6e2e" stroke-width=".8"/><line x1="14.0" y1="65.2" x2="23.7" y2="55.6" stroke="#565c26" stroke-width=".9"/><line x1="14.0" y1="65.2" x2="7.9" y2="55.6" stroke="#6a6e2e" stroke-width=".8"/><line x1="15.2" y1="59.5" x2="28.9" y2="51.5" stroke="#565c26" stroke-width=".9"/><line x1="15.2" y1="59.5" x2="8.1" y2="50.3" stroke="#6a6e2e" stroke-width=".8"/><line x1="16.4" y1="53.7" x2="25.0" y2="46.4" stroke="#565c26" stroke-width=".9"/><line x1="16.4" y1="53.7" x2="7.0" y2="49.0" stroke="#6a6e2e" stroke-width=".8"/><line x1="17.6" y1="47.9" x2="22.6" y2="36.5" stroke="#565c26" stroke-width=".9"/><line x1="17.6" y1="47.9" x2="8.2" y2="43.2" stroke="#6a6e2e" stroke-width=".8"/><line x1="18.7" y1="42.1" x2="26.6" y2="30.7" stroke="#565c26" stroke-width=".9"/><line x1="18.7" y1="42.1" x2="12.0" y2="35.3" stroke="#6a6e2e" stroke-width=".8"/><line x1="0" y1="140" x2="14" y2="96" stroke="#a87830" stroke-width="1.6"/><line x1="5.6" y1="122.4" x2="20.2" y2="119.1" stroke="#565c26" stroke-width=".9"/><line x1="5.6" y1="122.4" x2="-2.8" y2="112.0" stroke="#6a6e2e" stroke-width=".8"/><line x1="6.8" y1="118.7" x2="16.8" y2="106.1" stroke="#565c26" stroke-width=".9"/><line x1="6.8" y1="118.7" x2="-2.3" y2="106.9" stroke="#6a6e2e" stroke-width=".8"/><line x1="8.0" y1="114.9" x2="20.0" y2="110.4" stroke="#565c26" stroke-width=".9"/><line x1="8.0" y1="114.9" x2="1.3" y2="106.4" stroke="#6a6e2e" stroke-width=".8"/><line x1="9.2" y1="111.2" x2="23.5" y2="102.7" stroke="#565c26" stroke-width=".9"/><line x1="9.2" y1="111.2" x2="-0.1" y2="101.8" stroke="#6a6e2e" stroke-width=".8"/><line x1="10.4" y1="107.4" x2="17.6" y2="100.9" stroke="#565c26" stroke-width=".9"/><line x1="10.4" y1="107.4" x2="6.8" y2="101.6" stroke="#6a6e2e" stroke-width=".8"/><line x1="11.6" y1="103.7" x2="17.7" y2="92.8" stroke="#565c26" stroke-width=".9"/><line x1="11.6" y1="103.7" x2="8.1" y2="94.2" stroke="#6a6e2e" stroke-width=".8"/><line x1="12.7" y1="100.0" x2="23.9" y2="93.6" stroke="#565c26" stroke-width=".9"/><line x1="12.7" y1="100.0" x2="8.4" y2="93.2" stroke="#6a6e2e" stroke-width=".8"/><path d="M239,-1 C250,25 259,48 261,72 C263,100 262,130 263,154" fill="none" stroke="#5b5540" stroke-width="6"/><path d="M241,-1 C252,25 261,48 263,72 C265,100 264,130 265,154" fill="none" stroke="#3c382a" stroke-width="2" opacity=".6"/><path d="M236,0 Q190,-4 163,27" fill="none" stroke="#34422f" stroke-width="1.4"/><line x1="236.0" y1="0.0" x2="233.3" y2="-2.5" stroke="#55654a" stroke-width="1.7"/><line x1="236.0" y1="0.0" x2="232.9" y2="6.4" stroke="#4d5c42" stroke-width="1.3"/><line x1="233.7" y1="-0.2" x2="230.6" y2="-1.7" stroke="#55654a" stroke-width="1.3"/><line x1="233.7" y1="-0.2" x2="229.4" y2="6.5" stroke="#55654a" stroke-width="1.1"/><line x1="231.3" y1="-0.3" x2="228.3" y2="-3.2" stroke="#2b3727" stroke-width="1.3"/><line x1="231.3" y1="-0.3" x2="227.9" y2="8.6" stroke="#2b3727" stroke-width="1.2"/><line x1="229.0" y1="-0.4" x2="224.2" y2="-1.9" stroke="#2b3727" stroke-width="1.1"/><line x1="229.0" y1="-0.4" x2="225.3" y2="7.4" stroke="#2b3727" stroke-width="1.5"/><line x1="226.8" y1="-0.5" x2="221.6" y2="-1.7" stroke="#2b3727" stroke-width="1.8"/><line x1="226.8" y1="-0.5" x2="221.2" y2="8.3" stroke="#3b4a35" stroke-width="1.8"/><line x1="224.5" y1="-0.5" x2="219.5" y2="-1.6" stroke="#4d5c42" stroke-width="1.5"/><line x1="224.5" y1="-0.5" x2="219.6" y2="9.0" stroke="#4d5c42" stroke-width="1.4"/><line x1="222.3" y1="-0.4" x2="216.8" y2="-3.0" stroke="#3b4a35" stroke-width="1.1"/><line x1="222.3" y1="-0.4" x2="217.1" y2="9.3" stroke="#33412d" stroke-width="1.3"/><line x1="220.1" y1="-0.3" x2="214.7" y2="-2.6" stroke="#3b4a35" stroke-width="1.4"/><line x1="220.1" y1="-0.3" x2="215.0" y2="10.3" stroke="#33412d" stroke-width="1.3"/><line x1="217.9" y1="-0.2" x2="212.4" y2="-3.1" stroke="#2b3727" stroke-width="1.7"/><line x1="217.9" y1="-0.2" x2="212.3" y2="9.9" stroke="#445239" stroke-width="1.4"/><line x1="215.8" y1="0.0" x2="210.2" y2="-2.8" stroke="#33412d" stroke-width="1.0"/><line x1="215.8" y1="0.0" x2="211.0" y2="10.5" stroke="#3b4a35" stroke-width="1.1"/><line x1="213.7" y1="0.2" x2="208.0" y2="-1.2" stroke="#4d5c42" stroke-width="1.1"/><line x1="213.7" y1="0.2" x2="209.4" y2="12.0" stroke="#55654a" stroke-width="1.7"/><line x1="211.6" y1="0.5" x2="205.3" y2="-0.5" stroke="#4d5c42" stroke-width="1.1"/><line x1="211.6" y1="0.5" x2="206.9" y2="12.7" stroke="#2b3727" stroke-width="1.5"/><line x1="209.5" y1="0.9" x2="202.7" y2="0.3" stroke="#3b4a35" stroke-width="1.8"/><line x1="209.5" y1="0.9" x2="205.5" y2="13.5" stroke="#4d5c42" stroke-width="1.5"/><line x1="207.4" y1="1.2" x2="200.6" y2="-0.9" stroke="#33412d" stroke-width="1.0"/><line x1="207.4" y1="1.2" x2="202.4" y2="13.9" stroke="#3b4a35" stroke-width="1.1"/><line x1="205.4" y1="1.6" x2="198.7" y2="-0.3" stroke="#4d5c42" stroke-width="1.6"/><line x1="205.4" y1="1.6" x2="202.0" y2="13.4" stroke="#4d5c42" stroke-width="1.2"/><line x1="203.4" y1="2.1" x2="195.8" y2="1.5" stroke="#6c7a5c" stroke-width="1.7"/><line x1="203.4" y1="2.1" x2="199.3" y2="14.9" stroke="#33412d" stroke-width="1.8"/><line x1="201.5" y1="2.6" x2="194.8" y2="1.8" stroke="#3b4a35" stroke-width="1.0"/><line x1="201.5" y1="2.6" x2="197.2" y2="14.9" stroke="#55654a" stroke-width="1.5"/><line x1="199.5" y1="3.2" x2="192.8" y2="1.8" stroke="#55654a" stroke-width="1.4"/><line x1="199.5" y1="3.2" x2="196.1" y2="16.1" stroke="#2b3727" stroke-width="1.2"/><line x1="197.6" y1="3.8" x2="189.8" y2="3.3" stroke="#55654a" stroke-width="1.4"/><line x1="197.6" y1="3.8" x2="193.9" y2="15.7" stroke="#3b4a35" stroke-width="1.7"/><line x1="195.7" y1="4.4" x2="188.7" y2="3.6" stroke="#4d5c42" stroke-width="1.2"/><line x1="195.7" y1="4.4" x2="193.5" y2="17.2" stroke="#55654a" stroke-width="1.6"/><line x1="193.8" y1="5.1" x2="187.2" y2="4.7" stroke="#6c7a5c" stroke-width="1.0"/><line x1="193.8" y1="5.1" x2="191.9" y2="18.7" stroke="#33412d" stroke-width="1.9"/><line x1="192.0" y1="5.8" x2="184.7" y2="5.2" stroke="#33412d" stroke-width="1.1"/><line x1="192.0" y1="5.8" x2="190.3" y2="17.8" stroke="#33412d" stroke-width="1.1"/><line x1="190.1" y1="6.6" x2="183.6" y2="7.4" stroke="#2b3727" stroke-width="1.4"/><line x1="190.1" y1="6.6" x2="187.7" y2="19.6" stroke="#6c7a5c" stroke-width="1.7"/><line x1="188.4" y1="7.5" x2="181.2" y2="8.4" stroke="#3b4a35" stroke-width="1.7"/><line x1="188.4" y1="7.5" x2="185.7" y2="20.2" stroke="#445239" stroke-width="1.2"/><line x1="186.6" y1="8.3" x2="179.9" y2="8.3" stroke="#445239" stroke-width="1.0"/><line x1="186.6" y1="8.3" x2="185.6" y2="20.5" stroke="#6c7a5c" stroke-width="1.7"/><line x1="184.8" y1="9.3" x2="178.2" y2="10.9" stroke="#3b4a35" stroke-width="1.8"/><line x1="184.8" y1="9.3" x2="184.1" y2="19.4" stroke="#6c7a5c" stroke-width="1.1"/><line x1="183.1" y1="10.2" x2="176.9" y2="10.3" stroke="#6c7a5c" stroke-width="1.5"/><line x1="183.1" y1="10.2" x2="181.9" y2="21.2" stroke="#6c7a5c" stroke-width="1.6"/><line x1="181.4" y1="11.2" x2="174.8" y2="11.5" stroke="#6c7a5c" stroke-width="1.9"/><line x1="181.4" y1="11.2" x2="181.3" y2="21.8" stroke="#4d5c42" stroke-width="1.7"/><line x1="179.7" y1="12.3" x2="174.5" y2="12.8" stroke="#55654a" stroke-width="1.4"/><line x1="179.7" y1="12.3" x2="179.1" y2="21.1" stroke="#4d5c42" stroke-width="1.0"/><line x1="178.1" y1="13.4" x2="173.1" y2="15.4" stroke="#55654a" stroke-width="1.1"/><line x1="178.1" y1="13.4" x2="178.2" y2="22.6" stroke="#55654a" stroke-width="1.1"/><line x1="176.5" y1="14.6" x2="170.0" y2="16.7" stroke="#4d5c42" stroke-width="1.5"/><line x1="176.5" y1="14.6" x2="175.8" y2="22.4" stroke="#6c7a5c" stroke-width="1.1"/><line x1="174.9" y1="15.8" x2="168.9" y2="17.5" stroke="#6c7a5c" stroke-width="1.0"/><line x1="174.9" y1="15.8" x2="174.8" y2="22.7" stroke="#6c7a5c" stroke-width="1.4"/><line x1="173.3" y1="17.0" x2="169.1" y2="19.3" stroke="#55654a" stroke-width="1.7"/><line x1="173.3" y1="17.0" x2="173.2" y2="23.3" stroke="#55654a" stroke-width="1.6"/><line x1="171.8" y1="18.3" x2="166.6" y2="20.4" stroke="#6c7a5c" stroke-width="1.3"/><line x1="171.8" y1="18.3" x2="170.9" y2="25.8" stroke="#33412d" stroke-width="1.6"/><line x1="170.2" y1="19.6" x2="165.9" y2="21.9" stroke="#55654a" stroke-width="1.7"/><line x1="170.2" y1="19.6" x2="170.4" y2="27.3" stroke="#445239" stroke-width="1.4"/><line x1="168.7" y1="21.0" x2="164.3" y2="23.5" stroke="#33412d" stroke-width="1.1"/><line x1="168.7" y1="21.0" x2="168.9" y2="27.4" stroke="#3b4a35" stroke-width="1.6"/><line x1="167.3" y1="22.4" x2="162.8" y2="24.7" stroke="#33412d" stroke-width="1.7"/><line x1="167.3" y1="22.4" x2="167.9" y2="29.2" stroke="#33412d" stroke-width="1.7"/><line x1="165.8" y1="23.9" x2="161.5" y2="26.2" stroke="#2b3727" stroke-width="1.5"/><line x1="165.8" y1="23.9" x2="165.8" y2="29.8" stroke="#2b3727" stroke-width="1.3"/><line x1="164.4" y1="25.4" x2="159.4" y2="27.4" stroke="#6c7a5c" stroke-width="1.5"/><line x1="164.4" y1="25.4" x2="165.5" y2="32.0" stroke="#2b3727" stroke-width="1.4"/><line x1="163.0" y1="27.0" x2="159.3" y2="29.7" stroke="#2b3727" stroke-width="1.7"/><line x1="163.0" y1="27.0" x2="163.0" y2="33.4" stroke="#3b4a35" stroke-width="1.3"/><path d="M232,0 Q196,-6 196,64" fill="none" stroke="#34422f" stroke-width="1.4"/><line x1="232.0" y1="0.0" x2="228.0" y2="-2.0" stroke="#2b3727" stroke-width="1.8"/><line x1="232.0" y1="0.0" x2="227.5" y2="7.0" stroke="#3b4a35" stroke-width="1.5"/><line x1="230.5" y1="-0.2" x2="226.7" y2="-2.8" stroke="#3b4a35" stroke-width="1.3"/><line x1="230.5" y1="-0.2" x2="225.5" y2="7.6" stroke="#2b3727" stroke-width="1.9"/><line x1="229.1" y1="-0.4" x2="225.6" y2="-2.3" stroke="#55654a" stroke-width="1.0"/><line x1="229.1" y1="-0.4" x2="223.4" y2="8.2" stroke="#33412d" stroke-width="1.5"/><line x1="227.7" y1="-0.4" x2="223.8" y2="-1.9" stroke="#2b3727" stroke-width="1.5"/><line x1="227.7" y1="-0.4" x2="223.4" y2="10.0" stroke="#445239" stroke-width="1.2"/><line x1="226.4" y1="-0.5" x2="220.9" y2="-2.5" stroke="#4d5c42" stroke-width="1.7"/><line x1="226.4" y1="-0.5" x2="220.5" y2="10.6" stroke="#55654a" stroke-width="1.1"/><line x1="225.0" y1="-0.4" x2="219.8" y2="-2.3" stroke="#6c7a5c" stroke-width="1.7"/><line x1="225.0" y1="-0.4" x2="219.2" y2="11.2" stroke="#445239" stroke-width="1.7"/><line x1="223.7" y1="-0.3" x2="218.3" y2="-2.2" stroke="#55654a" stroke-width="1.4"/><line x1="223.7" y1="-0.3" x2="218.0" y2="11.2" stroke="#2b3727" stroke-width="1.8"/><line x1="222.4" y1="-0.2" x2="216.8" y2="-2.1" stroke="#6c7a5c" stroke-width="1.2"/><line x1="222.4" y1="-0.2" x2="217.6" y2="12.5" stroke="#55654a" stroke-width="1.5"/><line x1="221.2" y1="0.1" x2="214.0" y2="-0.5" stroke="#55654a" stroke-width="1.8"/><line x1="221.2" y1="0.1" x2="217.8" y2="12.5" stroke="#6c7a5c" stroke-width="1.7"/><line x1="220.0" y1="0.4" x2="211.7" y2="0.4" stroke="#2b3727" stroke-width="1.1"/><line x1="220.0" y1="0.4" x2="216.6" y2="14.6" stroke="#33412d" stroke-width="1.5"/><line x1="218.8" y1="0.7" x2="210.6" y2="1.1" stroke="#33412d" stroke-width="1.6"/><line x1="218.8" y1="0.7" x2="215.6" y2="15.4" stroke="#2b3727" stroke-width="1.3"/><line x1="217.7" y1="1.1" x2="208.2" y2="0.2" stroke="#445239" stroke-width="1.8"/><line x1="217.7" y1="1.1" x2="214.6" y2="15.3" stroke="#445239" stroke-width="1.3"/><line x1="216.5" y1="1.6" x2="207.1" y2="1.6" stroke="#2b3727" stroke-width="1.4"/><line x1="216.5" y1="1.6" x2="213.1" y2="16.6" stroke="#55654a" stroke-width="1.8"/><line x1="215.4" y1="2.2" x2="205.5" y2="2.5" stroke="#33412d" stroke-width="1.3"/><line x1="215.4" y1="2.2" x2="214.1" y2="17.7" stroke="#4d5c42" stroke-width="1.2"/><line x1="214.4" y1="2.8" x2="204.6" y2="4.5" stroke="#445239" stroke-width="1.1"/><line x1="214.4" y1="2.8" x2="213.0" y2="17.3" stroke="#445239" stroke-width="1.3"/><line x1="213.3" y1="3.4" x2="202.4" y2="5.3" stroke="#445239" stroke-width="1.0"/><line x1="213.3" y1="3.4" x2="213.2" y2="19.8" stroke="#2b3727" stroke-width="1.0"/><line x1="212.3" y1="4.2" x2="201.5" y2="7.7" stroke="#55654a" stroke-width="1.2"/><line x1="212.3" y1="4.2" x2="212.1" y2="19.1" stroke="#2b3727" stroke-width="1.4"/><line x1="211.4" y1="5.0" x2="201.4" y2="8.3" stroke="#4d5c42" stroke-width="1.1"/><line x1="211.4" y1="5.0" x2="211.4" y2="21.4" stroke="#3b4a35" stroke-width="1.0"/><line x1="210.4" y1="5.8" x2="199.6" y2="9.3" stroke="#3b4a35" stroke-width="1.4"/><line x1="210.4" y1="5.8" x2="211.7" y2="21.2" stroke="#445239" stroke-width="1.2"/><line x1="209.5" y1="6.8" x2="199.6" y2="10.7" stroke="#55654a" stroke-width="1.9"/><line x1="209.5" y1="6.8" x2="211.3" y2="22.4" stroke="#3b4a35" stroke-width="1.0"/><line x1="208.6" y1="7.8" x2="197.1" y2="13.1" stroke="#33412d" stroke-width="1.4"/><line x1="208.6" y1="7.8" x2="210.3" y2="24.4" stroke="#6c7a5c" stroke-width="1.2"/><line x1="207.8" y1="8.8" x2="197.1" y2="14.4" stroke="#6c7a5c" stroke-width="1.9"/><line x1="207.8" y1="8.8" x2="209.4" y2="23.5" stroke="#445239" stroke-width="1.7"/><line x1="206.9" y1="9.9" x2="197.1" y2="15.7" stroke="#3b4a35" stroke-width="1.9"/><line x1="206.9" y1="9.9" x2="209.0" y2="24.5" stroke="#33412d" stroke-width="1.5"/><line x1="206.1" y1="11.1" x2="196.6" y2="18.4" stroke="#6c7a5c" stroke-width="1.5"/><line x1="206.1" y1="11.1" x2="209.0" y2="25.4" stroke="#3b4a35" stroke-width="1.4"/><line x1="205.4" y1="12.4" x2="195.5" y2="18.3" stroke="#33412d" stroke-width="1.8"/><line x1="205.4" y1="12.4" x2="208.9" y2="27.9" stroke="#6c7a5c" stroke-width="1.8"/><line x1="204.6" y1="13.7" x2="195.1" y2="21.3" stroke="#4d5c42" stroke-width="1.3"/><line x1="204.6" y1="13.7" x2="207.6" y2="28.6" stroke="#445239" stroke-width="1.4"/><line x1="203.9" y1="15.0" x2="193.8" y2="22.1" stroke="#445239" stroke-width="1.8"/><line x1="203.9" y1="15.0" x2="208.6" y2="29.8" stroke="#2b3727" stroke-width="1.8"/><line x1="203.3" y1="16.5" x2="193.4" y2="23.9" stroke="#2b3727" stroke-width="1.9"/><line x1="203.3" y1="16.5" x2="207.6" y2="29.3" stroke="#3b4a35" stroke-width="1.5"/><line x1="202.6" y1="18.0" x2="193.2" y2="26.4" stroke="#33412d" stroke-width="1.7"/><line x1="202.6" y1="18.0" x2="207.8" y2="31.6" stroke="#55654a" stroke-width="1.8"/><line x1="202.0" y1="19.5" x2="193.2" y2="27.7" stroke="#55654a" stroke-width="1.9"/><line x1="202.0" y1="19.5" x2="206.8" y2="32.0" stroke="#33412d" stroke-width="1.1"/><line x1="201.4" y1="21.1" x2="193.4" y2="28.0" stroke="#55654a" stroke-width="1.5"/><line x1="201.4" y1="21.1" x2="206.0" y2="32.6" stroke="#6c7a5c" stroke-width="1.7"/><line x1="200.9" y1="22.8" x2="191.9" y2="30.3" stroke="#3b4a35" stroke-width="1.6"/><line x1="200.9" y1="22.8" x2="205.2" y2="35.2" stroke="#4d5c42" stroke-width="1.5"/><line x1="200.3" y1="24.6" x2="192.7" y2="32.2" stroke="#6c7a5c" stroke-width="1.0"/><line x1="200.3" y1="24.6" x2="205.0" y2="36.4" stroke="#2b3727" stroke-width="1.8"/><line x1="199.8" y1="26.4" x2="191.5" y2="33.1" stroke="#3b4a35" stroke-width="1.2"/><line x1="199.8" y1="26.4" x2="204.5" y2="37.9" stroke="#2b3727" stroke-width="1.2"/><line x1="199.4" y1="28.3" x2="191.7" y2="35.4" stroke="#445239" stroke-width="1.1"/><line x1="199.4" y1="28.3" x2="204.9" y2="37.7" stroke="#4d5c42" stroke-width="1.0"/><line x1="198.9" y1="30.2" x2="191.9" y2="36.7" stroke="#3b4a35" stroke-width="1.2"/><line x1="198.9" y1="30.2" x2="203.7" y2="40.2" stroke="#6c7a5c" stroke-width="1.5"/><line x1="198.5" y1="32.2" x2="192.8" y2="38.7" stroke="#2b3727" stroke-width="1.8"/><line x1="198.5" y1="32.2" x2="202.5" y2="41.3" stroke="#6c7a5c" stroke-width="1.2"/><line x1="198.2" y1="34.3" x2="192.4" y2="40.5" stroke="#3b4a35" stroke-width="1.6"/><line x1="198.2" y1="34.3" x2="203.1" y2="43.3" stroke="#2b3727" stroke-width="1.5"/><line x1="197.8" y1="36.4" x2="191.8" y2="42.1" stroke="#445239" stroke-width="1.7"/><line x1="197.8" y1="36.4" x2="202.9" y2="44.3" stroke="#445239" stroke-width="1.2"/><line x1="197.5" y1="38.6" x2="193.0" y2="45.4" stroke="#33412d" stroke-width="1.9"/><line x1="197.5" y1="38.6" x2="201.8" y2="45.5" stroke="#3b4a35" stroke-width="1.2"/><line x1="197.2" y1="40.8" x2="192.1" y2="46.5" stroke="#3b4a35" stroke-width="1.5"/><line x1="197.2" y1="40.8" x2="202.2" y2="47.5" stroke="#445239" stroke-width="1.1"/><line x1="197.0" y1="43.2" x2="192.0" y2="47.8" stroke="#4d5c42" stroke-width="1.3"/><line x1="197.0" y1="43.2" x2="200.0" y2="50.2" stroke="#55654a" stroke-width="1.3"/><line x1="196.7" y1="45.6" x2="193.0" y2="50.3" stroke="#3b4a35" stroke-width="1.2"/><line x1="196.7" y1="45.6" x2="200.7" y2="51.4" stroke="#4d5c42" stroke-width="1.1"/><line x1="196.5" y1="48.0" x2="191.8" y2="52.9" stroke="#55654a" stroke-width="1.8"/><line x1="196.5" y1="48.0" x2="200.6" y2="54.3" stroke="#33412d" stroke-width="1.4"/><line x1="196.4" y1="50.5" x2="193.0" y2="56.5" stroke="#445239" stroke-width="1.6"/><line x1="196.4" y1="50.5" x2="199.9" y2="56.1" stroke="#6c7a5c" stroke-width="1.2"/><line x1="196.2" y1="53.1" x2="191.3" y2="59.3" stroke="#33412d" stroke-width="1.5"/><line x1="196.2" y1="53.1" x2="200.4" y2="59.5" stroke="#6c7a5c" stroke-width="1.4"/><line x1="196.1" y1="55.7" x2="191.2" y2="61.6" stroke="#3b4a35" stroke-width="1.5"/><line x1="196.1" y1="55.7" x2="199.6" y2="62.3" stroke="#3b4a35" stroke-width="1.5"/><line x1="196.1" y1="58.4" x2="192.1" y2="64.4" stroke="#2b3727" stroke-width="1.7"/><line x1="196.1" y1="58.4" x2="199.7" y2="65.0" stroke="#2b3727" stroke-width="1.4"/><line x1="196.0" y1="61.2" x2="192.0" y2="66.8" stroke="#6c7a5c" stroke-width="1.1"/><line x1="196.0" y1="61.2" x2="200.1" y2="68.2" stroke="#3b4a35" stroke-width="1.6"/><line x1="196.0" y1="64.0" x2="191.8" y2="69.2" stroke="#55654a" stroke-width="1.3"/><line x1="196.0" y1="64.0" x2="200.6" y2="70.2" stroke="#4d5c42" stroke-width="1.7"/><path d="M236,0 Q212,-2 221,37" fill="none" stroke="#34422f" stroke-width="1.4"/><line x1="236.0" y1="0.0" x2="234.5" y2="-1.5" stroke="#55654a" stroke-width="1.8"/><line x1="236.0" y1="0.0" x2="233.0" y2="5.7" stroke="#6c7a5c" stroke-width="1.5"/><line x1="234.4" y1="-0.1" x2="232.1" y2="-1.4" stroke="#33412d" stroke-width="1.0"/><line x1="234.4" y1="-0.1" x2="232.2" y2="5.9" stroke="#55654a" stroke-width="1.1"/><line x1="232.8" y1="-0.1" x2="229.6" y2="-1.8" stroke="#3b4a35" stroke-width="1.0"/><line x1="232.8" y1="-0.1" x2="229.0" y2="7.1" stroke="#445239" stroke-width="1.2"/><line x1="231.4" y1="0.0" x2="226.8" y2="-1.6" stroke="#3b4a35" stroke-width="1.6"/><line x1="231.4" y1="0.0" x2="227.4" y2="8.4" stroke="#55654a" stroke-width="1.8"/><line x1="230.0" y1="0.2" x2="224.6" y2="-0.1" stroke="#55654a" stroke-width="1.9"/><line x1="230.0" y1="0.2" x2="226.9" y2="8.2" stroke="#4d5c42" stroke-width="1.8"/><line x1="228.7" y1="0.5" x2="223.9" y2="1.0" stroke="#33412d" stroke-width="1.7"/><line x1="228.7" y1="0.5" x2="226.8" y2="9.5" stroke="#33412d" stroke-width="1.3"/><line x1="227.5" y1="0.9" x2="222.2" y2="0.6" stroke="#3b4a35" stroke-width="1.5"/><line x1="227.5" y1="0.9" x2="224.5" y2="10.6" stroke="#3b4a35" stroke-width="1.4"/><line x1="226.3" y1="1.4" x2="220.2" y2="1.8" stroke="#2b3727" stroke-width="1.2"/><line x1="226.3" y1="1.4" x2="224.7" y2="11.4" stroke="#445239" stroke-width="1.2"/><line x1="225.3" y1="2.0" x2="219.0" y2="3.5" stroke="#3b4a35" stroke-width="1.8"/><line x1="225.3" y1="2.0" x2="223.9" y2="13.2" stroke="#445239" stroke-width="1.5"/><line x1="224.3" y1="2.7" x2="217.2" y2="4.5" stroke="#2b3727" stroke-width="1.9"/><line x1="224.3" y1="2.7" x2="224.5" y2="12.7" stroke="#55654a" stroke-width="1.8"/><line x1="223.4" y1="3.5" x2="216.1" y2="7.1" stroke="#2b3727" stroke-width="1.4"/><line x1="223.4" y1="3.5" x2="224.1" y2="14.1" stroke="#55654a" stroke-width="1.5"/><line x1="222.5" y1="4.4" x2="214.9" y2="7.1" stroke="#3b4a35" stroke-width="1.2"/><line x1="222.5" y1="4.4" x2="224.8" y2="13.9" stroke="#2b3727" stroke-width="1.0"/><line x1="221.8" y1="5.4" x2="215.5" y2="10.4" stroke="#4d5c42" stroke-width="1.7"/><line x1="221.8" y1="5.4" x2="223.0" y2="15.6" stroke="#55654a" stroke-width="1.9"/><line x1="221.1" y1="6.4" x2="213.2" y2="10.2" stroke="#2b3727" stroke-width="1.3"/><line x1="221.1" y1="6.4" x2="224.3" y2="16.7" stroke="#55654a" stroke-width="1.7"/><line x1="220.5" y1="7.6" x2="214.0" y2="13.6" stroke="#445239" stroke-width="1.6"/><line x1="220.5" y1="7.6" x2="223.5" y2="16.9" stroke="#445239" stroke-width="1.6"/><line x1="220.0" y1="8.9" x2="214.5" y2="14.4" stroke="#55654a" stroke-width="1.2"/><line x1="220.0" y1="8.9" x2="224.0" y2="18.0" stroke="#55654a" stroke-width="1.2"/><line x1="219.6" y1="10.3" x2="212.8" y2="15.6" stroke="#33412d" stroke-width="1.2"/><line x1="219.6" y1="10.3" x2="223.1" y2="18.0" stroke="#3b4a35" stroke-width="1.0"/><line x1="219.2" y1="11.7" x2="213.2" y2="18.5" stroke="#3b4a35" stroke-width="1.0"/><line x1="219.2" y1="11.7" x2="224.1" y2="19.6" stroke="#445239" stroke-width="1.5"/><line x1="218.9" y1="13.3" x2="213.3" y2="19.8" stroke="#445239" stroke-width="1.9"/><line x1="218.9" y1="13.3" x2="222.0" y2="19.8" stroke="#4d5c42" stroke-width="1.5"/><line x1="218.7" y1="15.0" x2="214.8" y2="21.5" stroke="#445239" stroke-width="1.5"/><line x1="218.7" y1="15.0" x2="222.0" y2="22.1" stroke="#2b3727" stroke-width="1.9"/><line x1="218.6" y1="16.7" x2="213.8" y2="22.9" stroke="#3b4a35" stroke-width="1.2"/><line x1="218.6" y1="16.7" x2="223.2" y2="23.4" stroke="#4d5c42" stroke-width="1.2"/><line x1="218.5" y1="18.6" x2="215.4" y2="24.8" stroke="#4d5c42" stroke-width="1.1"/><line x1="218.5" y1="18.6" x2="221.7" y2="24.3" stroke="#445239" stroke-width="1.3"/><line x1="218.6" y1="20.6" x2="215.1" y2="26.4" stroke="#2b3727" stroke-width="1.9"/><line x1="218.6" y1="20.6" x2="221.7" y2="24.5" stroke="#55654a" stroke-width="1.9"/><line x1="218.7" y1="22.6" x2="215.0" y2="27.7" stroke="#2b3727" stroke-width="1.8"/><line x1="218.7" y1="22.6" x2="221.8" y2="26.1" stroke="#6c7a5c" stroke-width="1.8"/><line x1="218.9" y1="24.8" x2="216.1" y2="29.7" stroke="#4d5c42" stroke-width="1.0"/><line x1="218.9" y1="24.8" x2="221.5" y2="29.2" stroke="#55654a" stroke-width="1.4"/><line x1="219.1" y1="27.0" x2="216.2" y2="31.2" stroke="#3b4a35" stroke-width="1.2"/><line x1="219.1" y1="27.0" x2="222.2" y2="31.1" stroke="#3b4a35" stroke-width="1.5"/><line x1="219.5" y1="29.4" x2="217.7" y2="33.9" stroke="#3b4a35" stroke-width="1.1"/><line x1="219.5" y1="29.4" x2="222.8" y2="33.4" stroke="#55654a" stroke-width="1.4"/><line x1="219.9" y1="31.8" x2="217.6" y2="36.8" stroke="#3b4a35" stroke-width="1.1"/><line x1="219.9" y1="31.8" x2="223.8" y2="35.1" stroke="#6c7a5c" stroke-width="1.8"/><line x1="220.4" y1="34.4" x2="217.2" y2="39.7" stroke="#6c7a5c" stroke-width="1.9"/><line x1="220.4" y1="34.4" x2="224.0" y2="38.3" stroke="#2b3727" stroke-width="1.4"/><line x1="221.0" y1="37.0" x2="217.9" y2="42.1" stroke="#445239" stroke-width="1.1"/><line x1="221.0" y1="37.0" x2="223.2" y2="40.3" stroke="#445239" stroke-width="1.7"/><path d="M240,0 Q240,20 228,70" fill="none" stroke="#34422f" stroke-width="1.4"/><line x1="240.0" y1="0.0" x2="234.9" y2="8.1" stroke="#55654a" stroke-width="1.5"/><line x1="240.0" y1="0.0" x2="245.2" y2="6.9" stroke="#3b4a35" stroke-width="1.7"/><line x1="240.0" y1="0.8" x2="234.6" y2="8.9" stroke="#2b3727" stroke-width="1.4"/><line x1="240.0" y1="0.8" x2="245.6" y2="8.9" stroke="#6c7a5c" stroke-width="1.4"/><line x1="240.0" y1="1.7" x2="234.9" y2="9.9" stroke="#55654a" stroke-width="1.8"/><line x1="240.0" y1="1.7" x2="246.2" y2="10.7" stroke="#33412d" stroke-width="1.6"/><line x1="240.0" y1="2.6" x2="233.9" y2="11.2" stroke="#3b4a35" stroke-width="1.1"/><line x1="240.0" y1="2.6" x2="245.3" y2="11.7" stroke="#2b3727" stroke-width="1.5"/><line x1="239.9" y1="3.5" x2="233.2" y2="13.0" stroke="#3b4a35" stroke-width="1.2"/><line x1="239.9" y1="3.5" x2="244.9" y2="12.1" stroke="#6c7a5c" stroke-width="1.4"/><line x1="239.9" y1="4.4" x2="233.0" y2="13.3" stroke="#3b4a35" stroke-width="1.6"/><line x1="239.9" y1="4.4" x2="245.1" y2="14.2" stroke="#4d5c42" stroke-width="1.8"/><line x1="239.8" y1="5.3" x2="233.7" y2="14.6" stroke="#3b4a35" stroke-width="1.4"/><line x1="239.8" y1="5.3" x2="245.7" y2="14.9" stroke="#6c7a5c" stroke-width="1.2"/><line x1="239.8" y1="6.3" x2="232.6" y2="15.9" stroke="#445239" stroke-width="1.3"/><line x1="239.8" y1="6.3" x2="246.9" y2="17.2" stroke="#33412d" stroke-width="1.5"/><line x1="239.7" y1="7.3" x2="231.4" y2="17.9" stroke="#4d5c42" stroke-width="1.9"/><line x1="239.7" y1="7.3" x2="246.7" y2="18.8" stroke="#4d5c42" stroke-width="1.6"/><line x1="239.6" y1="8.4" x2="230.9" y2="18.0" stroke="#445239" stroke-width="1.8"/><line x1="239.6" y1="8.4" x2="246.4" y2="19.9" stroke="#6c7a5c" stroke-width="1.9"/><line x1="239.5" y1="9.4" x2="232.3" y2="20.1" stroke="#3b4a35" stroke-width="1.2"/><line x1="239.5" y1="9.4" x2="247.0" y2="20.6" stroke="#2b3727" stroke-width="1.6"/><line x1="239.4" y1="10.5" x2="231.1" y2="21.4" stroke="#445239" stroke-width="1.9"/><line x1="239.4" y1="10.5" x2="246.6" y2="22.8" stroke="#3b4a35" stroke-width="1.4"/><line x1="239.3" y1="11.6" x2="231.3" y2="22.2" stroke="#55654a" stroke-width="1.8"/><line x1="239.3" y1="11.6" x2="246.4" y2="24.2" stroke="#445239" stroke-width="1.1"/><line x1="239.2" y1="12.7" x2="231.5" y2="23.7" stroke="#4d5c42" stroke-width="1.0"/><line x1="239.2" y1="12.7" x2="246.2" y2="24.5" stroke="#2b3727" stroke-width="1.7"/><line x1="239.0" y1="13.9" x2="229.5" y2="24.7" stroke="#6c7a5c" stroke-width="1.2"/><line x1="239.0" y1="13.9" x2="246.1" y2="26.4" stroke="#3b4a35" stroke-width="1.3"/><line x1="238.9" y1="15.1" x2="229.8" y2="26.3" stroke="#3b4a35" stroke-width="1.2"/><line x1="238.9" y1="15.1" x2="245.1" y2="27.9" stroke="#55654a" stroke-width="1.7"/><line x1="238.7" y1="16.3" x2="230.4" y2="26.3" stroke="#55654a" stroke-width="1.3"/><line x1="238.7" y1="16.3" x2="245.5" y2="30.0" stroke="#2b3727" stroke-width="1.3"/><line x1="238.6" y1="17.5" x2="229.9" y2="27.7" stroke="#4d5c42" stroke-width="1.4"/><line x1="238.6" y1="17.5" x2="245.1" y2="31.0" stroke="#55654a" stroke-width="1.1"/><line x1="238.4" y1="18.7" x2="229.0" y2="29.0" stroke="#55654a" stroke-width="1.3"/><line x1="238.4" y1="18.7" x2="244.9" y2="31.6" stroke="#445239" stroke-width="1.1"/><line x1="238.2" y1="20.0" x2="229.6" y2="30.3" stroke="#4d5c42" stroke-width="1.2"/><line x1="238.2" y1="20.0" x2="246.1" y2="33.6" stroke="#445239" stroke-width="1.8"/><line x1="238.0" y1="21.3" x2="229.7" y2="31.8" stroke="#55654a" stroke-width="1.5"/><line x1="238.0" y1="21.3" x2="244.2" y2="34.6" stroke="#33412d" stroke-width="1.4"/><line x1="237.8" y1="22.7" x2="227.7" y2="33.7" stroke="#2b3727" stroke-width="1.1"/><line x1="237.8" y1="22.7" x2="243.9" y2="36.2" stroke="#55654a" stroke-width="1.0"/><line x1="237.6" y1="24.0" x2="227.8" y2="34.8" stroke="#33412d" stroke-width="1.2"/><line x1="237.6" y1="24.0" x2="243.9" y2="37.2" stroke="#3b4a35" stroke-width="1.7"/><line x1="237.4" y1="25.4" x2="227.9" y2="35.3" stroke="#445239" stroke-width="1.9"/><line x1="237.4" y1="25.4" x2="243.9" y2="37.5" stroke="#2b3727" stroke-width="1.7"/><line x1="237.1" y1="26.8" x2="229.1" y2="36.1" stroke="#6c7a5c" stroke-width="1.3"/><line x1="237.1" y1="26.8" x2="244.4" y2="40.3" stroke="#6c7a5c" stroke-width="1.6"/><line x1="236.9" y1="28.2" x2="227.2" y2="37.3" stroke="#4d5c42" stroke-width="1.2"/><line x1="236.9" y1="28.2" x2="243.0" y2="40.7" stroke="#2b3727" stroke-width="1.6"/><line x1="236.6" y1="29.7" x2="227.0" y2="39.5" stroke="#2b3727" stroke-width="1.7"/><line x1="236.6" y1="29.7" x2="243.5" y2="43.0" stroke="#445239" stroke-width="1.4"/><line x1="236.4" y1="31.1" x2="227.1" y2="40.7" stroke="#3b4a35" stroke-width="1.3"/><line x1="236.4" y1="31.1" x2="242.7" y2="43.8" stroke="#4d5c42" stroke-width="1.3"/><line x1="236.1" y1="32.7" x2="226.8" y2="42.6" stroke="#2b3727" stroke-width="1.4"/><line x1="236.1" y1="32.7" x2="243.2" y2="45.0" stroke="#4d5c42" stroke-width="1.5"/><line x1="235.8" y1="34.2" x2="226.9" y2="42.4" stroke="#4d5c42" stroke-width="1.8"/><line x1="235.8" y1="34.2" x2="242.8" y2="46.0" stroke="#2b3727" stroke-width="1.7"/><line x1="235.5" y1="35.7" x2="226.8" y2="43.7" stroke="#3b4a35" stroke-width="1.8"/><line x1="235.5" y1="35.7" x2="241.2" y2="47.5" stroke="#55654a" stroke-width="1.0"/><line x1="235.2" y1="37.3" x2="227.6" y2="46.4" stroke="#2b3727" stroke-width="1.4"/><line x1="235.2" y1="37.3" x2="240.4" y2="49.0" stroke="#2b3727" stroke-width="1.5"/><line x1="234.9" y1="38.9" x2="227.1" y2="47.0" stroke="#2b3727" stroke-width="1.3"/><line x1="234.9" y1="38.9" x2="239.4" y2="50.6" stroke="#6c7a5c" stroke-width="1.8"/><line x1="234.6" y1="40.5" x2="228.3" y2="47.5" stroke="#3b4a35" stroke-width="1.7"/><line x1="234.6" y1="40.5" x2="239.9" y2="51.5" stroke="#33412d" stroke-width="1.6"/><line x1="234.2" y1="42.2" x2="227.6" y2="49.4" stroke="#33412d" stroke-width="1.6"/><line x1="234.2" y1="42.2" x2="239.8" y2="52.1" stroke="#445239" stroke-width="1.2"/><line x1="233.9" y1="43.9" x2="226.3" y2="50.5" stroke="#4d5c42" stroke-width="1.6"/><line x1="233.9" y1="43.9" x2="239.6" y2="54.4" stroke="#445239" stroke-width="1.7"/><line x1="233.5" y1="45.6" x2="227.6" y2="53.0" stroke="#2b3727" stroke-width="1.9"/><line x1="233.5" y1="45.6" x2="237.8" y2="55.2" stroke="#55654a" stroke-width="1.4"/><line x1="233.2" y1="47.3" x2="227.0" y2="53.3" stroke="#6c7a5c" stroke-width="1.5"/><line x1="233.2" y1="47.3" x2="236.7" y2="55.1" stroke="#6c7a5c" stroke-width="1.6"/><line x1="232.8" y1="49.1" x2="226.2" y2="55.5" stroke="#55654a" stroke-width="1.8"/><line x1="232.8" y1="49.1" x2="237.4" y2="56.8" stroke="#3b4a35" stroke-width="1.0"/><line x1="232.4" y1="50.8" x2="226.6" y2="57.4" stroke="#445239" stroke-width="1.4"/><line x1="232.4" y1="50.8" x2="236.9" y2="59.0" stroke="#33412d" stroke-width="1.4"/><line x1="232.0" y1="52.6" x2="226.9" y2="57.2" stroke="#445239" stroke-width="1.8"/><line x1="232.0" y1="52.6" x2="235.5" y2="59.3" stroke="#445239" stroke-width="1.2"/><line x1="231.6" y1="54.5" x2="227.6" y2="59.1" stroke="#445239" stroke-width="1.8"/><line x1="231.6" y1="54.5" x2="235.2" y2="60.8" stroke="#33412d" stroke-width="1.9"/><line x1="231.2" y1="56.3" x2="227.3" y2="60.6" stroke="#55654a" stroke-width="1.1"/><line x1="231.2" y1="56.3" x2="234.4" y2="63.6" stroke="#3b4a35" stroke-width="1.7"/><line x1="230.8" y1="58.2" x2="226.9" y2="62.8" stroke="#2b3727" stroke-width="1.1"/><line x1="230.8" y1="58.2" x2="234.2" y2="64.3" stroke="#6c7a5c" stroke-width="1.7"/><line x1="230.3" y1="60.1" x2="224.6" y2="65.5" stroke="#445239" stroke-width="1.2"/><line x1="230.3" y1="60.1" x2="232.7" y2="66.7" stroke="#4d5c42" stroke-width="1.7"/><line x1="229.9" y1="62.0" x2="225.4" y2="66.8" stroke="#33412d" stroke-width="1.1"/><line x1="229.9" y1="62.0" x2="233.4" y2="68.3" stroke="#6c7a5c" stroke-width="1.1"/><line x1="229.4" y1="64.0" x2="225.4" y2="68.7" stroke="#4d5c42" stroke-width="1.7"/><line x1="229.4" y1="64.0" x2="233.2" y2="69.9" stroke="#55654a" stroke-width="1.2"/><line x1="229.0" y1="66.0" x2="225.1" y2="71.6" stroke="#2b3727" stroke-width="1.7"/><line x1="229.0" y1="66.0" x2="232.7" y2="73.4" stroke="#55654a" stroke-width="1.2"/><line x1="228.5" y1="68.0" x2="223.6" y2="72.1" stroke="#33412d" stroke-width="1.2"/><line x1="228.5" y1="68.0" x2="231.8" y2="74.0" stroke="#33412d" stroke-width="1.7"/><line x1="228.0" y1="70.0" x2="223.3" y2="75.6" stroke="#6c7a5c" stroke-width="1.4"/><line x1="228.0" y1="70.0" x2="232.2" y2="76.8" stroke="#55654a" stroke-width="1.4"/><path d="M243,2 Q250,25 249,56" fill="none" stroke="#34422f" stroke-width="1.4"/><line x1="243.0" y1="2.0" x2="241.7" y2="7.0" stroke="#6c7a5c" stroke-width="1.4"/><line x1="243.0" y1="2.0" x2="246.2" y2="6.3" stroke="#445239" stroke-width="1.8"/><line x1="243.5" y1="3.6" x2="241.5" y2="8.9" stroke="#2b3727" stroke-width="1.4"/><line x1="243.5" y1="3.6" x2="247.6" y2="7.9" stroke="#6c7a5c" stroke-width="1.7"/><line x1="243.9" y1="5.2" x2="242.2" y2="11.8" stroke="#445239" stroke-width="1.9"/><line x1="243.9" y1="5.2" x2="247.8" y2="9.2" stroke="#4d5c42" stroke-width="1.7"/><line x1="244.4" y1="6.8" x2="240.6" y2="14.3" stroke="#3b4a35" stroke-width="1.8"/><line x1="244.4" y1="6.8" x2="249.4" y2="12.1" stroke="#6c7a5c" stroke-width="1.7"/><line x1="244.8" y1="8.5" x2="241.9" y2="16.3" stroke="#33412d" stroke-width="1.0"/><line x1="244.8" y1="8.5" x2="250.2" y2="12.8" stroke="#55654a" stroke-width="1.0"/><line x1="245.2" y1="10.2" x2="241.6" y2="16.8" stroke="#55654a" stroke-width="1.6"/><line x1="245.2" y1="10.2" x2="250.4" y2="15.5" stroke="#3b4a35" stroke-width="1.1"/><line x1="245.6" y1="11.9" x2="241.8" y2="18.5" stroke="#3b4a35" stroke-width="1.1"/><line x1="245.6" y1="11.9" x2="250.1" y2="17.3" stroke="#3b4a35" stroke-width="1.3"/><line x1="245.9" y1="13.6" x2="243.1" y2="22.2" stroke="#3b4a35" stroke-width="1.2"/><line x1="245.9" y1="13.6" x2="250.8" y2="19.8" stroke="#55654a" stroke-width="1.2"/><line x1="246.3" y1="15.3" x2="242.3" y2="22.8" stroke="#3b4a35" stroke-width="1.6"/><line x1="246.3" y1="15.3" x2="252.5" y2="22.3" stroke="#3b4a35" stroke-width="1.7"/><line x1="246.6" y1="17.0" x2="241.5" y2="24.6" stroke="#2b3727" stroke-width="1.1"/><line x1="246.6" y1="17.0" x2="252.9" y2="23.6" stroke="#445239" stroke-width="1.9"/><line x1="246.9" y1="18.8" x2="243.5" y2="27.3" stroke="#4d5c42" stroke-width="1.5"/><line x1="246.9" y1="18.8" x2="252.1" y2="26.1" stroke="#2b3727" stroke-width="1.2"/><line x1="247.2" y1="20.6" x2="243.6" y2="28.1" stroke="#55654a" stroke-width="1.0"/><line x1="247.2" y1="20.6" x2="252.4" y2="27.6" stroke="#2b3727" stroke-width="1.4"/><line x1="247.4" y1="22.4" x2="242.7" y2="29.3" stroke="#33412d" stroke-width="1.3"/><line x1="247.4" y1="22.4" x2="252.1" y2="29.1" stroke="#2b3727" stroke-width="1.6"/><line x1="247.7" y1="24.2" x2="242.5" y2="32.5" stroke="#6c7a5c" stroke-width="1.8"/><line x1="247.7" y1="24.2" x2="253.1" y2="29.9" stroke="#4d5c42" stroke-width="1.7"/><line x1="247.9" y1="26.1" x2="242.7" y2="33.0" stroke="#3b4a35" stroke-width="1.4"/><line x1="247.9" y1="26.1" x2="252.5" y2="31.8" stroke="#4d5c42" stroke-width="1.1"/><line x1="248.1" y1="27.9" x2="243.6" y2="35.7" stroke="#55654a" stroke-width="1.6"/><line x1="248.1" y1="27.9" x2="253.7" y2="33.5" stroke="#55654a" stroke-width="1.1"/><line x1="248.3" y1="29.8" x2="243.6" y2="37.0" stroke="#55654a" stroke-width="1.5"/><line x1="248.3" y1="29.8" x2="252.4" y2="36.5" stroke="#55654a" stroke-width="1.5"/><line x1="248.5" y1="31.7" x2="243.4" y2="38.4" stroke="#2b3727" stroke-width="1.7"/><line x1="248.5" y1="31.7" x2="252.9" y2="37.4" stroke="#33412d" stroke-width="1.8"/><line x1="248.6" y1="33.6" x2="244.6" y2="39.7" stroke="#3b4a35" stroke-width="1.1"/><line x1="248.6" y1="33.6" x2="253.0" y2="38.5" stroke="#6c7a5c" stroke-width="1.1"/><line x1="248.7" y1="35.6" x2="245.4" y2="41.7" stroke="#3b4a35" stroke-width="1.4"/><line x1="248.7" y1="35.6" x2="252.5" y2="41.4" stroke="#4d5c42" stroke-width="1.0"/><line x1="248.9" y1="37.5" x2="245.5" y2="42.4" stroke="#4d5c42" stroke-width="1.4"/><line x1="248.9" y1="37.5" x2="251.8" y2="43.0" stroke="#6c7a5c" stroke-width="1.4"/><line x1="248.9" y1="39.5" x2="245.5" y2="43.8" stroke="#6c7a5c" stroke-width="1.4"/><line x1="248.9" y1="39.5" x2="251.8" y2="43.7" stroke="#3b4a35" stroke-width="1.5"/><line x1="249.0" y1="41.5" x2="246.2" y2="46.3" stroke="#6c7a5c" stroke-width="1.0"/><line x1="249.0" y1="41.5" x2="251.7" y2="45.0" stroke="#445239" stroke-width="1.6"/><line x1="249.1" y1="43.5" x2="245.9" y2="48.1" stroke="#4d5c42" stroke-width="1.9"/><line x1="249.1" y1="43.5" x2="251.6" y2="47.8" stroke="#4d5c42" stroke-width="1.6"/><line x1="249.1" y1="45.5" x2="246.1" y2="50.2" stroke="#6c7a5c" stroke-width="1.4"/><line x1="249.1" y1="45.5" x2="250.9" y2="48.3" stroke="#55654a" stroke-width="1.5"/><line x1="249.1" y1="47.6" x2="246.9" y2="50.5" stroke="#33412d" stroke-width="1.3"/><line x1="249.1" y1="47.6" x2="252.5" y2="51.4" stroke="#55654a" stroke-width="1.0"/><line x1="249.1" y1="49.7" x2="246.5" y2="52.6" stroke="#55654a" stroke-width="1.7"/><line x1="249.1" y1="49.7" x2="251.1" y2="52.3" stroke="#4d5c42" stroke-width="1.4"/><line x1="249.1" y1="51.8" x2="246.2" y2="55.8" stroke="#55654a" stroke-width="1.4"/><line x1="249.1" y1="51.8" x2="251.5" y2="56.0" stroke="#445239" stroke-width="1.3"/><line x1="249.1" y1="53.9" x2="246.2" y2="56.6" stroke="#4d5c42" stroke-width="1.1"/><line x1="249.1" y1="53.9" x2="251.2" y2="56.9" stroke="#445239" stroke-width="1.4"/><line x1="249.0" y1="56.0" x2="246.0" y2="58.6" stroke="#33412d" stroke-width="1.4"/><line x1="249.0" y1="56.0" x2="252.0" y2="59.9" stroke="#4d5c42" stroke-width="1.8"/><path d="M244,0 Q262,8 265,42" fill="none" stroke="#34422f" stroke-width="1.4"/><line x1="244.0" y1="0.0" x2="245.0" y2="7.1" stroke="#6c7a5c" stroke-width="1.0"/><line x1="244.0" y1="0.0" x2="249.2" y2="0.4" stroke="#55654a" stroke-width="1.6"/><line x1="245.2" y1="0.6" x2="246.3" y2="8.1" stroke="#3b4a35" stroke-width="1.5"/><line x1="245.2" y1="0.6" x2="249.5" y2="1.1" stroke="#445239" stroke-width="1.3"/><line x1="246.4" y1="1.2" x2="247.1" y2="9.7" stroke="#6c7a5c" stroke-width="1.3"/><line x1="246.4" y1="1.2" x2="252.0" y2="1.8" stroke="#445239" stroke-width="1.6"/><line x1="247.6" y1="1.9" x2="247.9" y2="11.9" stroke="#55654a" stroke-width="1.4"/><line x1="247.6" y1="1.9" x2="252.6" y2="3.3" stroke="#2b3727" stroke-width="1.6"/><line x1="248.7" y1="2.7" x2="248.4" y2="12.7" stroke="#3b4a35" stroke-width="1.2"/><line x1="248.7" y1="2.7" x2="255.7" y2="4.1" stroke="#6c7a5c" stroke-width="1.7"/><line x1="249.8" y1="3.5" x2="249.7" y2="14.6" stroke="#6c7a5c" stroke-width="1.8"/><line x1="249.8" y1="3.5" x2="255.5" y2="5.3" stroke="#445239" stroke-width="1.5"/><line x1="250.8" y1="4.4" x2="249.9" y2="15.0" stroke="#4d5c42" stroke-width="1.8"/><line x1="250.8" y1="4.4" x2="257.3" y2="7.6" stroke="#6c7a5c" stroke-width="1.6"/><line x1="251.8" y1="5.4" x2="250.3" y2="17.3" stroke="#6c7a5c" stroke-width="1.3"/><line x1="251.8" y1="5.4" x2="258.2" y2="8.2" stroke="#3b4a35" stroke-width="1.5"/><line x1="252.8" y1="6.4" x2="252.5" y2="18.2" stroke="#2b3727" stroke-width="1.9"/><line x1="252.8" y1="6.4" x2="261.0" y2="9.3" stroke="#33412d" stroke-width="1.2"/><line x1="253.7" y1="7.5" x2="252.7" y2="18.4" stroke="#3b4a35" stroke-width="1.1"/><line x1="253.7" y1="7.5" x2="261.0" y2="11.6" stroke="#445239" stroke-width="1.6"/><line x1="254.6" y1="8.6" x2="252.1" y2="19.2" stroke="#2b3727" stroke-width="1.6"/><line x1="254.6" y1="8.6" x2="261.8" y2="13.5" stroke="#4d5c42" stroke-width="1.0"/><line x1="255.5" y1="9.8" x2="253.0" y2="21.2" stroke="#2b3727" stroke-width="1.7"/><line x1="255.5" y1="9.8" x2="263.8" y2="14.4" stroke="#33412d" stroke-width="1.5"/><line x1="256.3" y1="11.1" x2="253.1" y2="23.1" stroke="#2b3727" stroke-width="1.5"/><line x1="256.3" y1="11.1" x2="263.2" y2="16.2" stroke="#3b4a35" stroke-width="1.9"/><line x1="257.1" y1="12.4" x2="254.5" y2="24.4" stroke="#445239" stroke-width="1.0"/><line x1="257.1" y1="12.4" x2="264.9" y2="17.8" stroke="#445239" stroke-width="1.0"/><line x1="257.9" y1="13.8" x2="254.1" y2="24.1" stroke="#445239" stroke-width="1.6"/><line x1="257.9" y1="13.8" x2="264.4" y2="18.4" stroke="#33412d" stroke-width="1.8"/><line x1="258.6" y1="15.2" x2="254.8" y2="24.7" stroke="#3b4a35" stroke-width="1.6"/><line x1="258.6" y1="15.2" x2="266.1" y2="21.5" stroke="#4d5c42" stroke-width="1.1"/><line x1="259.3" y1="16.7" x2="256.4" y2="26.0" stroke="#3b4a35" stroke-width="1.7"/><line x1="259.3" y1="16.7" x2="266.4" y2="23.0" stroke="#4d5c42" stroke-width="1.9"/><line x1="259.9" y1="18.3" x2="256.1" y2="27.1" stroke="#445239" stroke-width="1.9"/><line x1="259.9" y1="18.3" x2="265.5" y2="24.5" stroke="#445239" stroke-width="1.6"/><line x1="260.6" y1="19.9" x2="258.0" y2="28.1" stroke="#55654a" stroke-width="1.2"/><line x1="260.6" y1="19.9" x2="266.7" y2="24.6" stroke="#3b4a35" stroke-width="1.6"/><line x1="261.1" y1="21.6" x2="258.8" y2="29.7" stroke="#33412d" stroke-width="1.1"/><line x1="261.1" y1="21.6" x2="266.1" y2="26.5" stroke="#3b4a35" stroke-width="1.4"/><line x1="261.7" y1="23.4" x2="258.3" y2="31.8" stroke="#3b4a35" stroke-width="1.4"/><line x1="261.7" y1="23.4" x2="266.7" y2="27.9" stroke="#4d5c42" stroke-width="1.7"/><line x1="262.2" y1="25.2" x2="258.1" y2="31.3" stroke="#2b3727" stroke-width="1.3"/><line x1="262.2" y1="25.2" x2="267.8" y2="30.0" stroke="#55654a" stroke-width="1.7"/><line x1="262.7" y1="27.1" x2="259.1" y2="34.2" stroke="#55654a" stroke-width="1.7"/><line x1="262.7" y1="27.1" x2="267.6" y2="30.9" stroke="#55654a" stroke-width="1.4"/><line x1="263.1" y1="29.0" x2="259.5" y2="33.8" stroke="#2b3727" stroke-width="1.0"/><line x1="263.1" y1="29.0" x2="267.3" y2="32.4" stroke="#2b3727" stroke-width="1.2"/><line x1="263.5" y1="31.0" x2="261.3" y2="36.6" stroke="#2b3727" stroke-width="1.1"/><line x1="263.5" y1="31.0" x2="266.3" y2="34.3" stroke="#33412d" stroke-width="1.3"/><line x1="263.9" y1="33.1" x2="261.1" y2="37.3" stroke="#3b4a35" stroke-width="1.8"/><line x1="263.9" y1="33.1" x2="266.3" y2="36.0" stroke="#33412d" stroke-width="1.3"/><line x1="264.2" y1="35.2" x2="261.2" y2="39.7" stroke="#55654a" stroke-width="1.6"/><line x1="264.2" y1="35.2" x2="268.3" y2="38.6" stroke="#33412d" stroke-width="1.3"/><line x1="264.5" y1="37.4" x2="262.0" y2="41.9" stroke="#445239" stroke-width="1.3"/><line x1="264.5" y1="37.4" x2="267.3" y2="40.9" stroke="#2b3727" stroke-width="1.9"/><line x1="264.8" y1="39.7" x2="261.7" y2="44.9" stroke="#6c7a5c" stroke-width="1.1"/><line x1="264.8" y1="39.7" x2="268.3" y2="43.2" stroke="#3b4a35" stroke-width="1.0"/><line x1="265.0" y1="42.0" x2="261.4" y2="46.2" stroke="#3b4a35" stroke-width="1.2"/><line x1="265.0" y1="42.0" x2="268.9" y2="45.6" stroke="#6c7a5c" stroke-width="1.9"/><path d="M238,0 Q225,-3 205,2" fill="none" stroke="#34422f" stroke-width="1.4"/><line x1="238.0" y1="0.0" x2="235.4" y2="-0.8" stroke="#3b4a35" stroke-width="1.6"/><line x1="238.0" y1="0.0" x2="235.2" y2="4.0" stroke="#4d5c42" stroke-width="1.6"/><line x1="236.9" y1="-0.2" x2="234.4" y2="-1.4" stroke="#6c7a5c" stroke-width="1.5"/><line x1="236.9" y1="-0.2" x2="232.6" y2="5.6" stroke="#55654a" stroke-width="1.6"/><line x1="235.7" y1="-0.5" x2="233.1" y2="-1.6" stroke="#33412d" stroke-width="1.2"/><line x1="235.7" y1="-0.5" x2="232.5" y2="5.6" stroke="#2b3727" stroke-width="1.7"/><line x1="234.5" y1="-0.6" x2="230.8" y2="-1.6" stroke="#6c7a5c" stroke-width="1.7"/><line x1="234.5" y1="-0.6" x2="229.9" y2="6.5" stroke="#55654a" stroke-width="1.7"/><line x1="233.3" y1="-0.8" x2="229.8" y2="-3.6" stroke="#4d5c42" stroke-width="1.4"/><line x1="233.3" y1="-0.8" x2="229.5" y2="5.9" stroke="#3b4a35" stroke-width="1.7"/><line x1="232.0" y1="-0.9" x2="229.2" y2="-3.1" stroke="#2b3727" stroke-width="1.9"/><line x1="232.0" y1="-0.9" x2="228.3" y2="6.3" stroke="#2b3727" stroke-width="1.7"/><line x1="230.7" y1="-1.0" x2="227.3" y2="-3.6" stroke="#2b3727" stroke-width="1.7"/><line x1="230.7" y1="-1.0" x2="225.8" y2="7.2" stroke="#445239" stroke-width="1.9"/><line x1="229.4" y1="-1.1" x2="225.6" y2="-3.1" stroke="#2b3727" stroke-width="1.8"/><line x1="229.4" y1="-1.1" x2="225.1" y2="6.3" stroke="#3b4a35" stroke-width="1.7"/><line x1="228.1" y1="-1.1" x2="223.6" y2="-2.3" stroke="#4d5c42" stroke-width="1.9"/><line x1="228.1" y1="-1.1" x2="224.4" y2="6.3" stroke="#445239" stroke-width="1.0"/><line x1="226.8" y1="-1.1" x2="223.2" y2="-2.5" stroke="#2b3727" stroke-width="1.3"/><line x1="226.8" y1="-1.1" x2="223.7" y2="7.6" stroke="#55654a" stroke-width="1.1"/><line x1="225.4" y1="-1.1" x2="221.6" y2="-2.8" stroke="#55654a" stroke-width="1.9"/><line x1="225.4" y1="-1.1" x2="220.7" y2="7.0" stroke="#6c7a5c" stroke-width="1.1"/><line x1="224.0" y1="-1.0" x2="219.4" y2="-2.6" stroke="#33412d" stroke-width="1.7"/><line x1="224.0" y1="-1.0" x2="221.1" y2="7.7" stroke="#3b4a35" stroke-width="1.9"/><line x1="222.5" y1="-1.0" x2="218.2" y2="-1.4" stroke="#6c7a5c" stroke-width="1.7"/><line x1="222.5" y1="-1.0" x2="219.0" y2="6.2" stroke="#33412d" stroke-width="1.8"/><line x1="221.1" y1="-0.8" x2="216.2" y2="-1.3" stroke="#2b3727" stroke-width="1.0"/><line x1="221.1" y1="-0.8" x2="217.5" y2="7.7" stroke="#445239" stroke-width="1.6"/><line x1="219.6" y1="-0.7" x2="216.5" y2="-1.9" stroke="#55654a" stroke-width="1.1"/><line x1="219.6" y1="-0.7" x2="216.8" y2="6.6" stroke="#2b3727" stroke-width="1.5"/><line x1="218.1" y1="-0.5" x2="213.9" y2="-1.3" stroke="#55654a" stroke-width="1.6"/><line x1="218.1" y1="-0.5" x2="215.9" y2="6.0" stroke="#55654a" stroke-width="1.3"/><line x1="216.5" y1="-0.3" x2="213.5" y2="-1.2" stroke="#55654a" stroke-width="1.8"/><line x1="216.5" y1="-0.3" x2="214.2" y2="6.5" stroke="#2b3727" stroke-width="1.3"/><line x1="215.0" y1="-0.1" x2="211.3" y2="-0.3" stroke="#6c7a5c" stroke-width="1.5"/><line x1="215.0" y1="-0.1" x2="212.5" y2="5.8" stroke="#445239" stroke-width="1.6"/><line x1="213.4" y1="0.2" x2="210.8" y2="-0.6" stroke="#55654a" stroke-width="1.9"/><line x1="213.4" y1="0.2" x2="212.2" y2="5.5" stroke="#2b3727" stroke-width="1.9"/><line x1="211.7" y1="0.5" x2="208.4" y2="0.8" stroke="#33412d" stroke-width="1.6"/><line x1="211.7" y1="0.5" x2="210.7" y2="5.2" stroke="#55654a" stroke-width="1.8"/><line x1="210.1" y1="0.8" x2="208.0" y2="0.6" stroke="#4d5c42" stroke-width="1.1"/><line x1="210.1" y1="0.8" x2="209.5" y2="5.5" stroke="#55654a" stroke-width="1.6"/><line x1="208.4" y1="1.2" x2="206.7" y2="1.7" stroke="#2b3727" stroke-width="1.1"/><line x1="208.4" y1="1.2" x2="207.2" y2="5.9" stroke="#3b4a35" stroke-width="1.6"/><line x1="206.7" y1="1.6" x2="203.2" y2="0.6" stroke="#6c7a5c" stroke-width="1.1"/><line x1="206.7" y1="1.6" x2="204.6" y2="6.6" stroke="#2b3727" stroke-width="1.6"/><line x1="205.0" y1="2.0" x2="201.8" y2="1.4" stroke="#6c7a5c" stroke-width="1.7"/><line x1="205.0" y1="2.0" x2="203.1" y2="6.2" stroke="#2b3727" stroke-width="1.9"/><ellipse cx="27.5" cy="104" rx="2.3" ry="2" fill="#1c1a16"/><polygon points="24,108 31,108 32,126 30,146 26,146 25,126" fill="#d9c3ae"/><polygon points="25,118 31,118 31,128 25,128" fill="#c9a48c"/><ellipse cx="69" cy="97" rx="2" ry="2" fill="#3a2418"/><polygon points="63,97 66,96 70,100 74,100 75,112 66,112" fill="#f4f1e6"/><polygon points="66,111 75,111 80,128 77,129 71,116 64,128 61,127" fill="#1c2434"/><polygon points="72,108 82,106 86,112 88,124 84,125 80,116 74,114" fill="#e9dcc4"/><ellipse cx="85.5" cy="88" rx="2.2" ry="2.2" fill="#8a2a22"/><polygon points="82,91 90,91 92,104 81,104" fill="#a63a30"/><polygon points="81,103 92,103 93,120 82,120" fill="#f2eee2"/><ellipse cx="95" cy="87" rx="2" ry="2" fill="#2a1c14"/><polygon points="91,89 100,89 102,101 92,101" fill="#26365a"/><polygon points="93,100 101,100 106,113 103,114 98,104 96,108 92,108" fill="#efe9da"/><ellipse cx="105" cy="88" rx="2" ry="2" fill="#3a2a20"/><polygon points="102,90 110,90 111,98 101,98" fill="#d2a896"/><polygon points="101,97 111,97 112,109 102,109" fill="#f3efe6"/><ellipse cx="116" cy="84" rx="1.8" ry="1.8" fill="#2a1c14"/><polygon points="113,86 120,86 121,92 113,92" fill="#e8e0cc"/><polygon points="112,91 122,91 123,103 113,103" fill="#355a8c"/><ellipse cx="127" cy="80" rx="1.8" ry="1.8" fill="#2a1c14"/><polygon points="124,82 131,82 132,92 125,92" fill="#f1ece0"/><polygon points="125,91 131,91 134,101 132,101 128,95 126,101 123,100" fill="#e6dfcf"/><ellipse cx="110" cy="82" rx="1.6" ry="1.6" fill="#1c1410"/><polygon points="107,84 113,84 113,94 107,94" fill="#2a3450"/><polygon points="121,118 128,116 136,120 136,132 130,133 124,128" fill="#b53a30"/><polygon points="128,118 136,118 137,128 130,128" fill="#f0eadc"/><ellipse cx="123" cy="126" rx="2" ry="2" fill="#3a241a"/><polygon points="132,120 142,119 143,130 133,131" fill="#efe9da"/><polygon points="141,124 148,124 149,135 141,135" fill="#2c4674"/><ellipse cx="144" cy="121" rx="1.6" ry="1.6" fill="#2a1c14"/><polygon points="148,104 160,103 161,112 150,113" fill="#e9e3d2"/><ellipse cx="150" cy="104" rx="1.6" ry="1.6" fill="#2a1c14"/><ellipse cx="145.5" cy="82.0" rx="1.5" ry="1.5" fill="#2a1c14"/><polygon points="144,84.0 147.5,84.0 148,90.0 143.5,90.0" fill="#2f4a7c"/><polygon points="143.5,90.0 148,90.0 148.5,97.0 143,97.0" fill="#e9e3d4"/><ellipse cx="150.5" cy="82.6" rx="1.5" ry="1.5" fill="#2a1c14"/><polygon points="149,84.6 152.5,84.6 153,90.6 148.5,90.6" fill="#ece6d8"/><polygon points="148.5,90.6 153,90.6 153.5,97.6 148,97.6" fill="#ece6d8"/><ellipse cx="157.5" cy="83.44" rx="1.5" ry="1.5" fill="#2a1c14"/><polygon points="156,85.44 159.5,85.44 160,91.44 155.5,91.44" fill="#e9e2d0"/><polygon points="155.5,91.44 160,91.44 160.5,98.44 155,98.44" fill="#38588c"/><ellipse cx="163.5" cy="84.16" rx="1.5" ry="1.5" fill="#2a1c14"/><polygon points="162,86.16 165.5,86.16 166,92.16 161.5,92.16" fill="#f2eee2"/><polygon points="161.5,92.16 166,92.16 166.5,99.16 161,99.16" fill="#f2eee2"/><ellipse cx="169.5" cy="84.88" rx="1.5" ry="1.5" fill="#2a1c14"/><polygon points="168,86.88 171.5,86.88 172,92.88 167.5,92.88" fill="#34507f"/><polygon points="167.5,92.88 172,92.88 172.5,99.88 167,99.88" fill="#e6dfcf"/><ellipse cx="175.5" cy="85.6" rx="1.5" ry="1.5" fill="#2a1c14"/><polygon points="174,87.6 177.5,87.6 178,93.6 173.5,93.6" fill="#efe9dc"/><polygon points="173.5,93.6 178,93.6 178.5,100.6 173,100.6" fill="#3a5a8e"/><ellipse cx="181.5" cy="86.32" rx="1.5" ry="1.5" fill="#2a1c14"/><polygon points="180,88.32 183.5,88.32 184,94.32 179.5,94.32" fill="#2d4470"/><polygon points="179.5,94.32 184,94.32 184.5,101.32 179,101.32" fill="#d9d2c2"/><ellipse cx="187.5" cy="87.04" rx="1.5" ry="1.5" fill="#2a1c14"/><polygon points="186,89.04 189.5,89.04 190,95.04 185.5,95.04" fill="#e9e3d4"/><polygon points="185.5,95.04 190,95.04 190.5,102.04 185,102.04" fill="#405f92"/><ellipse cx="193.5" cy="87.76" rx="1.5" ry="1.5" fill="#2a1c14"/><polygon points="192,89.76 195.5,89.76 196,95.76 191.5,95.76" fill="#e3ddcf"/><polygon points="191.5,95.76 196,95.76 196.5,102.76 191,102.76" fill="#e3ddcf"/><ellipse cx="166.5" cy="108" rx="3" ry="2.2" fill="#1a1714"/><polygon points="162,111 171,111 172,128 170,148 166,148 166,130 164,148 161,147 162,128" fill="#4d4438"/><ellipse cx="184" cy="91.5" rx="3.2" ry="2" fill="#141210"/><polygon points="181,93 187,93 187,96 181,96" fill="#141210"/><polygon points="178,97 192,96 194,112 190,124 180,124 177,110" fill="#3f372e"/><polygon points="176,116 196,110 206,118 200,122 198,140 195,150 192,150 192,134 184,134 182,150 179,150 178,132" fill="#6a3f26"/><ellipse cx="200" cy="103" rx="2.2" ry="2.2" fill="#1f1712"/><polygon points="197,106 205,106 206,122 204,138 199,138 198,122" fill="#3c3a36"/><polygon points="204,98 212,86 226,86 232,96 228,100 206,101" fill="#27304a"/><polygon points="224,92 246,88 250,100 228,104" fill="#5c5434"/><polygon points="208,102 232,102 232,128 208,128" fill="#4a3626"/><polygon points="214,110 236,106 240,114 238,126 236,146 233,146 232,130 222,130 220,146 217,146 216,128" fill="#4c3424"/><polygon points="232,118 250,110 262,116 262,130 258,146 255,146 254,132 244,134 240,146 237,146 236,130" fill="#3e2c22"/><ellipse cx="251" cy="100" rx="2.2" ry="2" fill="#3a2218"/><polygon points="247,103 256,103 257,116 247,116" fill="#7f4a30"/></g></svg></div><!--PAINT_END-->

<div class="t" style="left:94.07px;top:56.84px;font:normal 700 53.5px/64px 'Liberation Serif', serif;color:#404040;letter-spacing:0.000px;transform:scaleX(0.8772)">Central</div>
<div class="t" style="left:260.00px;top:56.84px;font:normal 700 53.5px/64px 'Liberation Serif', serif;color:#404040;letter-spacing:0.000px;transform:scaleX(0.8455)">America:</div>
<div class="t" style="left:467.70px;top:56.84px;font:normal 700 53.5px/64px 'Liberation Serif', serif;color:#404040;letter-spacing:0.000px;transform:scaleX(0.9816)">A</div>
<div class="t" style="left:517.18px;top:56.84px;font:normal 700 53.5px/64px 'Liberation Serif', serif;color:#404040;letter-spacing:0.000px;transform:scaleX(0.9412)">Quest</div>
<div class="t" style="left:653.30px;top:56.84px;font:normal 700 53.5px/64px 'Liberation Serif', serif;color:#404040;letter-spacing:0.000px;transform:scaleX(0.8955)">for</div>
<div class="t" style="left:722.43px;top:56.84px;font:normal 700 53.5px/64px 'Liberation Serif', serif;color:#404040;letter-spacing:0.000px;transform:scaleX(0.8696)">the</div>
<div class="t" style="left:795.78px;top:56.84px;font:normal 700 53.5px/64px 'Liberation Serif', serif;color:#404040;letter-spacing:0.000px;transform:scaleX(0.9236)">Progression</div>
<div class="t" style="left:1056.36px;top:56.84px;font:normal 700 53.5px/64px 'Liberation Serif', serif;color:#404040;letter-spacing:0.000px;transform:scaleX(0.9698)">of</div>
<div class="t" style="left:1119.75px;top:56.84px;font:normal 700 53.5px/64px 'Liberation Serif', serif;color:#404040;letter-spacing:0.000px;transform:scaleX(0.9498)">Economic</div>
<div class="t" style="left:1338.34px;top:56.84px;font:normal 700 53.5px/64px 'Liberation Serif', serif;color:#404040;letter-spacing:0.000px;transform:scaleX(0.9640)">Value.</div>
<div class="t" style="left:1486.53px;top:56.84px;font:normal 700 53.5px/64px 'Liberation Serif', serif;color:#404040;letter-spacing:0.000px;transform:scaleX(0.9247)">Season</div>
<div class="t" style="left:1644.93px;top:56.84px;font:normal 700 53.5px/64px 'Liberation Serif', serif;color:#404040;letter-spacing:0.000px;transform:scaleX(0.8871)">IV.</div>
<div class="t" style="left:96.38px;top:117.84px;font:normal 700 53.5px/64px 'Liberation Serif', serif;color:#404040;letter-spacing:0.000px;transform:scaleX(0.9152)">From</div>
<div class="t" style="left:223.52px;top:117.84px;font:normal 700 53.5px/64px 'Liberation Serif', serif;color:#404040;letter-spacing:0.000px;transform:scaleX(0.7950)">1700-1900:</div>
<div class="t" style="left:435.70px;top:117.84px;font:normal 700 53.5px/64px 'Liberation Serif', serif;color:#404040;letter-spacing:0.000px;transform:scaleX(0.9954)">The</div>
<div class="t" style="left:538.18px;top:117.84px;font:normal 700 53.5px/64px 'Liberation Serif', serif;color:#404040;letter-spacing:0.000px;transform:scaleX(0.9082)">origin</div>
<div class="t" style="left:673.16px;top:117.84px;font:normal 700 53.5px/64px 'Liberation Serif', serif;color:#404040;letter-spacing:0.000px;transform:scaleX(0.9186)">of</div>
<div class="t" style="left:731.35px;top:117.84px;font:normal 700 53.5px/64px 'Liberation Serif', serif;color:#404040;letter-spacing:0.000px;transform:scaleX(0.8830)">Central</div>
<div class="t" style="left:896.70px;top:117.84px;font:normal 700 53.5px/64px 'Liberation Serif', serif;color:#404040;letter-spacing:0.000px;transform:scaleX(0.8923)">America</div>
<div class="t" style="left:1085.78px;top:117.84px;font:normal 700 53.5px/64px 'Liberation Serif', serif;color:#404040;letter-spacing:0.000px;transform:scaleX(0.9180)">political-economy.</div>
<div class="t" style="left:57.28px;top:171.91px;font:normal 700 46.5px/56px 'Liberation Serif', serif;color:#404040;letter-spacing:0.000px;transform:scaleX(0.8576)">Sugar-Sugar.</div>
<div class="t" style="left:289.94px;top:171.91px;font:normal 700 46.5px/56px 'Liberation Serif', serif;color:#404040;letter-spacing:0.000px;transform:scaleX(0.8808)">Introduction.</div>
<div class="t" style="left:80.39px;top:243.26px;font:italic 400 26.67px/32px 'Liberation Sans', sans-serif;color:#0c0c0c;-webkit-text-stroke:0.35px;transform:scaleX(1.1058)">Slavery existed in all Europe at the time of the introduction of sugar plantations in America.</div>
<div class="t" style="left:59.50px;top:295.34px;font:italic 700 22.67px/27px 'Liberation Sans', sans-serif;color:#7d0a0a;letter-spacing:0.000px;transform:scaleX(1.0678)">All the peoples of Europe, Middle East and Asia practiced slavery.  The practice began since ancient civilizations.</div>
<div class="t" style="left:80.80px;top:351.01px;font:normal 700 21.33px/26px 'Liberation Sans', sans-serif;color:#0b2559;letter-spacing:0.000px;transform:scaleX(1.0395)">Variable</div>
<div class="t" style="left:80.80px;top:445.61px;font:normal 700 21.33px/26px 'Liberation Sans', sans-serif;color:#0b2559;letter-spacing:0.000px;transform:scaleX(1.0294)">Production oriented</div>
<div class="t" style="left:80.80px;top:509.11px;font:normal 700 21.33px/26px 'Liberation Sans', sans-serif;color:#0b2559;letter-spacing:0.000px;transform:scaleX(1.0104)">Goal of prosperity</div>
<div class="t" style="left:80.80px;top:573.61px;font:normal 700 21.33px/26px 'Liberation Sans', sans-serif;color:#0b2559;letter-spacing:0.000px;transform:scaleX(0.9820)">Regimen</div>
<div class="t" style="left:80.80px;top:618.91px;font:normal 700 21.33px/26px 'Liberation Sans', sans-serif;color:#0b2559;letter-spacing:0.000px;transform:scaleX(1.0244)">Labor format</div>
<div class="t" style="left:80.80px;top:692.11px;font:normal 700 21.33px/26px 'Liberation Sans', sans-serif;color:#0b2559;letter-spacing:0.000px;transform:scaleX(1.0063)">Worker Salary</div>
<div class="t" style="left:80.80px;top:757.11px;font:normal 700 21.33px/26px 'Liberation Sans', sans-serif;color:#0b2559;letter-spacing:0.000px;transform:scaleX(1.0400)">Type of work</div>
<div class="t" style="left:80.80px;top:821.11px;font:normal 700 21.33px/26px 'Liberation Sans', sans-serif;color:#0b2559;letter-spacing:0.000px;transform:scaleX(0.9860)">Ownership essence</div>
<div class="t" style="left:80.80px;top:910.81px;font:normal 700 21.33px/26px 'Liberation Sans', sans-serif;color:#0b2559;letter-spacing:0.000px;transform:scaleX(0.9737)">Slavery</div>
<div class="t" style="left:319.10px;top:446.07px;font:normal 400 20px/24px 'Liberation Sans', sans-serif;color:#0b2559;-webkit-text-stroke:0.35px;transform:scaleX(1.0505)">Local self-subsistence</div>
<div class="t" style="left:319.10px;top:509.82px;font:normal 400 20px/24px 'Liberation Sans', sans-serif;color:#0b2559;-webkit-text-stroke:0.35px;transform:scaleX(1.0554)">Local consumption to cover basic needs</div>
<div class="t" style="left:319.10px;top:535.57px;font:normal 400 20px/24px 'Liberation Sans', sans-serif;color:#0b2559;-webkit-text-stroke:0.35px;transform:scaleX(1.0645)">High-Class: afford imported East luxuries</div>
<div class="t" style="left:319.10px;top:574.07px;font:normal 400 20px/24px 'Liberation Sans', sans-serif;color:#0b2559;-webkit-text-stroke:0.35px;transform:scaleX(1.0484)">Feudalism</div>
<div class="t" style="left:319.10px;top:619.07px;font:normal 400 20px/24px 'Liberation Sans', sans-serif;color:#0b2559;-webkit-text-stroke:0.35px;transform:scaleX(1.1000)">Feudal (free and unfree)tied to the land of</div>
<div class="t" style="left:319.10px;top:644.82px;font:normal 400 20px/24px 'Liberation Sans', sans-serif;color:#0b2559;-webkit-text-stroke:0.35px;transform:scaleX(1.1305)">the lord, with certain rights</div>
<div class="t" style="left:319.10px;top:692.07px;font:normal 400 20px/24px 'Liberation Sans', sans-serif;color:#0b2559;-webkit-text-stroke:0.35px;transform:scaleX(1.0868)">Unpaid work. Right for a plot of land and</div>
<div class="t" style="left:319.10px;top:718.37px;font:normal 400 20px/24px 'Liberation Sans', sans-serif;color:#0b2559;-webkit-text-stroke:0.35px;transform:scaleX(1.1153)">protection from the Lord/knights</div>
<div class="t" style="left:319.10px;top:757.07px;font:normal 400 20px/24px 'Liberation Sans', sans-serif;color:#0b2559;-webkit-text-stroke:0.35px;transform:scaleX(1.0624)">Bonded Laborer Agriculture, Workshops for</div>
<div class="t" style="left:319.10px;top:783.37px;font:normal 400 20px/24px 'Liberation Sans', sans-serif;color:#0b2559;-webkit-text-stroke:0.35px;transform:scaleX(1.0924)">the talented, and Domestic</div>
<div class="t" style="left:319.10px;top:821.07px;font:normal 400 20px/24px 'Liberation Sans', sans-serif;color:#0b2559;-webkit-text-stroke:0.35px;transform:scaleX(1.0619)">Feudal serfs were sometimes owners of the</div>
<div class="t" style="left:319.10px;top:847.07px;font:normal 400 20px/24px 'Liberation Sans', sans-serif;color:#0b2559;-webkit-text-stroke:0.35px;transform:scaleX(1.0750)">land, or gained ownership after years of</div>
<div class="t" style="left:319.10px;top:872.57px;font:normal 400 20px/24px 'Liberation Sans', sans-serif;color:#0b2559;-webkit-text-stroke:0.35px;transform:scaleX(1.1048)">work</div>
<div class="t" style="left:319.10px;top:911.07px;font:normal 400 20px/24px 'Liberation Sans', sans-serif;color:#0b2559;-webkit-text-stroke:0.35px;transform:scaleX(1.0558)">Slaves existed in feudalism</div>
<div class="t" style="left:774.90px;top:446.07px;font:normal 400 20px/24px 'Liberation Sans', sans-serif;color:#0b2559;-webkit-text-stroke:0.35px;transform:scaleX(1.0813)">Monetization silver/commodities-Exports</div>
<div class="t" style="left:774.90px;top:509.82px;font:normal 400 20px/24px 'Liberation Sans', sans-serif;color:#0b2559;-webkit-text-stroke:0.35px;transform:scaleX(1.0620)">Create a global monetary system</div>
<div class="t" style="left:774.90px;top:535.57px;font:normal 400 20px/24px 'Liberation Sans', sans-serif;color:#0b2559;-webkit-text-stroke:0.35px;transform:scaleX(1.0233)">expanding business</div>
<div class="t" style="left:774.90px;top:574.07px;font:normal 400 20px/24px 'Liberation Sans', sans-serif;color:#0b2559;-webkit-text-stroke:0.35px;transform:scaleX(1.0820)">Mercantilism</div>
<div class="t" style="left:774.90px;top:619.07px;font:normal 400 20px/24px 'Liberation Sans', sans-serif;color:#0b2559;-webkit-text-stroke:0.35px;transform:scaleX(1.0770)">Chattel Slavery, no rights</div>
<div class="t" style="left:774.90px;top:692.07px;font:normal 400 20px/24px 'Liberation Sans', sans-serif;color:#0b2559;-webkit-text-stroke:0.35px;transform:scaleX(1.0587)">Unpaid work. Cruelty and excessive</div>
<div class="t" style="left:774.90px;top:718.37px;font:normal 400 20px/24px 'Liberation Sans', sans-serif;color:#0b2559;-webkit-text-stroke:0.35px;transform:scaleX(1.0573)">working hours</div>
<div class="t" style="left:774.90px;top:757.07px;font:normal 400 20px/24px 'Liberation Sans', sans-serif;color:#0b2559;-webkit-text-stroke:0.35px;transform:scaleX(1.0784)">Slave Laborer in Agriculture,</div>
<div class="t" style="left:774.90px;top:783.37px;font:normal 400 20px/24px 'Liberation Sans', sans-serif;color:#0b2559;-webkit-text-stroke:0.35px;transform:scaleX(1.0627)">construction and services</div>
<div class="t" style="left:774.90px;top:821.07px;font:normal 400 20px/24px 'Liberation Sans', sans-serif;color:#0b2559;-webkit-text-stroke:0.35px;transform:scaleX(1.0558)">Slaves were never owners of anything.</div>
<div class="t" style="left:774.90px;top:847.07px;font:normal 400 20px/24px 'Liberation Sans', sans-serif;color:#0b2559;-webkit-text-stroke:0.35px;transform:scaleX(1.0256)">Possessed nothing. Dependence of</div>
<div class="t" style="left:774.90px;top:872.57px;font:normal 400 20px/24px 'Liberation Sans', sans-serif;color:#0b2559;-webkit-text-stroke:0.35px;transform:scaleX(1.1117)">planter for survival</div>
<div class="t" style="left:774.90px;top:911.07px;font:normal 400 20px/24px 'Liberation Sans', sans-serif;color:#0b2559;-webkit-text-stroke:0.35px;transform:scaleX(1.0713)">Slaves were the core of the commodity</div>
<div class="t" style="left:774.90px;top:937.37px;font:normal 400 20px/24px 'Liberation Sans', sans-serif;color:#0b2559;-webkit-text-stroke:0.35px;transform:scaleX(1.0471)">business prosperity</div>
<div class="t" style="left:1195.00px;top:446.07px;font:normal 400 20px/24px 'Liberation Sans', sans-serif;color:#0b2559;-webkit-text-stroke:0.35px;transform:scaleX(1.0695)">Wealth accumulation-Exports</div>
<div class="t" style="left:1195.00px;top:509.82px;font:normal 400 20px/24px 'Liberation Sans', sans-serif;color:#0b2559;-webkit-text-stroke:0.35px;transform:scaleX(1.0617)">Maximizing Profits</div>
<div class="t" style="left:1195.00px;top:574.07px;font:normal 400 20px/24px 'Liberation Sans', sans-serif;color:#0b2559;-webkit-text-stroke:0.35px;transform:scaleX(1.1076)">Capitalism/Industrialization</div>
<div class="t" style="left:1195.00px;top:619.07px;font:normal 400 20px/24px 'Liberation Sans', sans-serif;color:#0b2559;-webkit-text-stroke:0.35px;transform:scaleX(1.1051)">Proletarian Worker, legally free to</div>
<div class="t" style="left:1195.00px;top:644.82px;font:normal 400 20px/24px 'Liberation Sans', sans-serif;color:#0b2559;-webkit-text-stroke:0.35px;transform:scaleX(1.0417)">move</div>
<div class="t" style="left:1195.00px;top:692.07px;font:normal 400 20px/24px 'Liberation Sans', sans-serif;color:#0b2559;-webkit-text-stroke:0.35px;transform:scaleX(1.0747)">Low salaries for factory workers</div>
<div class="t" style="left:1195.00px;top:718.37px;font:normal 400 20px/24px 'Liberation Sans', sans-serif;color:#0b2559;-webkit-text-stroke:0.35px;transform:scaleX(1.0608)">Middle-class salaries for educated</div>
<div class="t" style="left:1195.00px;top:757.07px;font:normal 400 20px/24px 'Liberation Sans', sans-serif;color:#0b2559;-webkit-text-stroke:0.35px;transform:scaleX(1.0898)">Manual and repetitive in factories</div>
<div class="t" style="left:1195.00px;top:783.37px;font:normal 400 20px/24px 'Liberation Sans', sans-serif;color:#0b2559;-webkit-text-stroke:0.35px;transform:scaleX(1.0745)">Agriculture, Construction, Services</div>
<div class="t" style="left:1195.00px;top:821.07px;font:normal 400 20px/24px 'Liberation Sans', sans-serif;color:#0b2559;-webkit-text-stroke:0.35px;transform:scaleX(1.0960)">Owner of his labor and intellectual</div>
<div class="t" style="left:1195.00px;top:847.07px;font:normal 400 20px/24px 'Liberation Sans', sans-serif;color:#0b2559;-webkit-text-stroke:0.35px;transform:scaleX(1.0723)">power given in exchange for a salary.</div>
<div class="t" style="left:1195.00px;top:872.57px;font:normal 400 20px/24px 'Liberation Sans', sans-serif;color:#0b2559;-webkit-text-stroke:0.35px;transform:scaleX(1.0915)">Highly indebted.</div>
<div class="t" style="left:1195.00px;top:911.07px;font:normal 400 20px/24px 'Liberation Sans', sans-serif;color:#0b2559;-webkit-text-stroke:0.35px;transform:scaleX(1.0579)">Legally slavery was abolished, but</div>
<div class="t" style="left:1195.00px;top:937.37px;font:normal 400 20px/24px 'Liberation Sans', sans-serif;color:#0b2559;-webkit-text-stroke:0.35px;transform:scaleX(1.0614)">workers became slaves of debt.</div>
<div class="t" style="left:391.45px;top:375.69px;font:normal 700 34.67px/42px 'Liberation Sans', sans-serif;color:#111111;letter-spacing:0.000px;transform:scaleX(1.0488)">900 to 1500 CE</div>
<div class="t" style="left:832.03px;top:374.49px;font:normal 700 34.67px/42px 'Liberation Sans', sans-serif;color:#111111;letter-spacing:0.000px;transform:scaleX(1.0852)">1500-1800</div>
<div class="t" style="left:1283.63px;top:367.49px;font:normal 700 34.67px/42px 'Liberation Sans', sans-serif;color:#111111;letter-spacing:0.000px;transform:scaleX(1.0833)">1800-1900</div>
<div class="t" style="left:44.61px;top:1016.54px;font:italic 700 23px/28px 'Liberation Serif', serif;color:#7a7a78;letter-spacing:0.000px;transform:scaleX(1.0932)">19/12/2025</div>
<div class="t" style="left:794.00px;top:1003.89px;font:normal 700 27px/32px 'Liberation Serif', serif;color:#151515;letter-spacing:0.000px;transform:scaleX(1.0254)">Eleonora Escalante Strategy</div>
<div class="t" style="left:740.00px;top:1036.39px;font:normal 400 13.3px/16px 'Liberation Sans', sans-serif;color:#222222;letter-spacing:6.862px;transform:scaleX(1.0000)">State of the Art Corporate Strategy</div>
<div class="t" style="left:709.00px;top:1057.39px;font:normal 400 13.3px/16px 'Liberation Sans', sans-serif;color:#222222;letter-spacing:6.769px;transform:scaleX(1.0000)">All rights reserved. Copyright 2016-2025</div>
<div class="t" style="left:1861.70px;top:1037.24px;font:italic 400 22.67px/27px 'Liberation Sans', sans-serif;color:#333333;letter-spacing:0.000px;transform:scaleX(0.9560)">23</div>
</body>
</html>
